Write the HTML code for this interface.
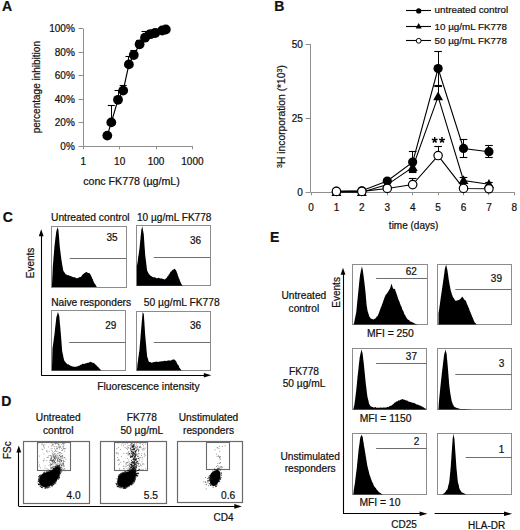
<!DOCTYPE html>
<html><head><meta charset="utf-8"><style>
html,body{margin:0;padding:0;background:#fff;}
svg{display:block;}
text{font-family:"Liberation Sans",sans-serif;fill:#111;stroke:#111;stroke-width:0.22px;}
</style></head><body>
<svg width="520" height="530" viewBox="0 0 520 530">
<rect width="520" height="530" fill="#fff"/>
<text x="2.00" y="10.90" font-size="14" text-anchor="start" font-weight="bold" >A</text>
<line x1="83.50" y1="28.50" x2="83.50" y2="146.30" stroke="#8f8f8f" stroke-width="1"/>
<line x1="78.50" y1="146.50" x2="83.00" y2="146.50" stroke="#8f8f8f" stroke-width="1"/>
<text x="74.80" y="149.90" font-size="10" text-anchor="end" >0%</text>
<line x1="78.50" y1="122.50" x2="83.00" y2="122.50" stroke="#8f8f8f" stroke-width="1"/>
<text x="74.80" y="126.34" font-size="10" text-anchor="end" >20%</text>
<line x1="78.50" y1="99.50" x2="83.00" y2="99.50" stroke="#8f8f8f" stroke-width="1"/>
<text x="74.80" y="102.78" font-size="10" text-anchor="end" >40%</text>
<line x1="78.50" y1="75.50" x2="83.00" y2="75.50" stroke="#8f8f8f" stroke-width="1"/>
<text x="74.80" y="79.22" font-size="10" text-anchor="end" >60%</text>
<line x1="78.50" y1="52.50" x2="83.00" y2="52.50" stroke="#8f8f8f" stroke-width="1"/>
<text x="74.80" y="55.66" font-size="10" text-anchor="end" >80%</text>
<line x1="78.50" y1="28.50" x2="83.00" y2="28.50" stroke="#8f8f8f" stroke-width="1"/>
<text x="74.80" y="32.10" font-size="10" text-anchor="end" >100%</text>
<line x1="83.00" y1="146.50" x2="192.80" y2="146.50" stroke="#8f8f8f" stroke-width="1"/>
<line x1="83.50" y1="146.30" x2="83.50" y2="149.30" stroke="#8f8f8f" stroke-width="1"/>
<text x="83.25" y="165.00" font-size="10" text-anchor="middle" >1</text>
<line x1="119.50" y1="146.30" x2="119.50" y2="149.30" stroke="#8f8f8f" stroke-width="1"/>
<text x="119.65" y="165.00" font-size="10" text-anchor="middle" >10</text>
<line x1="156.50" y1="146.30" x2="156.50" y2="149.30" stroke="#8f8f8f" stroke-width="1"/>
<text x="156.05" y="165.00" font-size="10" text-anchor="middle" >100</text>
<line x1="192.50" y1="146.30" x2="192.50" y2="149.30" stroke="#8f8f8f" stroke-width="1"/>
<text x="192.45" y="165.00" font-size="10" text-anchor="middle" >1000</text>
<text x="83.20" y="184.70" font-size="10.65" text-anchor="start" >conc FK778 (µg/mL)</text>
<text transform="translate(39.6,87.2) rotate(-90)" font-size="10" text-anchor="middle">percentage inhibition</text>
<line x1="111.50" y1="122.40" x2="111.50" y2="105.70" stroke="#000" stroke-width="1"/>
<line x1="107.80" y1="105.50" x2="114.80" y2="105.50" stroke="#000" stroke-width="1.1"/>
<line x1="118.50" y1="99.80" x2="118.50" y2="90.20" stroke="#000" stroke-width="1"/>
<line x1="114.50" y1="90.50" x2="121.50" y2="90.50" stroke="#000" stroke-width="1.1"/>
<line x1="123.50" y1="90.60" x2="123.50" y2="85.70" stroke="#000" stroke-width="1"/>
<line x1="119.70" y1="85.50" x2="126.70" y2="85.50" stroke="#000" stroke-width="1.1"/>
<line x1="128.50" y1="64.40" x2="128.50" y2="56.20" stroke="#000" stroke-width="1"/>
<line x1="125.40" y1="56.50" x2="132.40" y2="56.50" stroke="#000" stroke-width="1.1"/>
<line x1="133.50" y1="55.00" x2="133.50" y2="50.50" stroke="#000" stroke-width="1"/>
<line x1="130.30" y1="50.50" x2="137.30" y2="50.50" stroke="#000" stroke-width="1.1"/>
<line x1="139.50" y1="44.30" x2="139.50" y2="40.00" stroke="#000" stroke-width="1"/>
<line x1="136.10" y1="40.50" x2="143.10" y2="40.50" stroke="#000" stroke-width="1.1"/>
<line x1="145.50" y1="37.70" x2="145.50" y2="31.50" stroke="#000" stroke-width="1"/>
<line x1="141.50" y1="31.50" x2="148.50" y2="31.50" stroke="#000" stroke-width="1.1"/>
<line x1="150.50" y1="34.20" x2="150.50" y2="30.50" stroke="#000" stroke-width="1"/>
<line x1="146.90" y1="30.50" x2="153.90" y2="30.50" stroke="#000" stroke-width="1.1"/>
<line x1="155.50" y1="33.00" x2="155.50" y2="29.80" stroke="#000" stroke-width="1"/>
<line x1="151.70" y1="29.50" x2="158.70" y2="29.50" stroke="#000" stroke-width="1.1"/>
<polyline points="107.30,135.60 111.30,122.40 118.00,99.80 123.20,90.60 128.90,64.40 133.80,55.00 139.60,44.30 145.00,37.70 150.40,34.20 155.20,33.00 162.20,30.50 165.80,29.50" fill="none" stroke="#000" stroke-width="1.2"/>
<circle cx="107.30" cy="135.60" r="4.9" fill="#000"/>
<circle cx="111.30" cy="122.40" r="4.9" fill="#000"/>
<circle cx="118.00" cy="99.80" r="4.9" fill="#000"/>
<circle cx="123.20" cy="90.60" r="4.9" fill="#000"/>
<circle cx="128.90" cy="64.40" r="4.9" fill="#000"/>
<circle cx="133.80" cy="55.00" r="4.9" fill="#000"/>
<circle cx="139.60" cy="44.30" r="4.9" fill="#000"/>
<circle cx="145.00" cy="37.70" r="4.9" fill="#000"/>
<circle cx="150.40" cy="34.20" r="4.9" fill="#000"/>
<circle cx="155.20" cy="33.00" r="4.9" fill="#000"/>
<circle cx="162.20" cy="30.50" r="4.9" fill="#000"/>
<circle cx="165.80" cy="29.50" r="4.9" fill="#000"/>
<text x="274.30" y="11.20" font-size="14" text-anchor="start" font-weight="bold" >B</text>
<line x1="310.50" y1="44.20" x2="310.50" y2="192.30" stroke="#8f8f8f" stroke-width="1"/>
<line x1="305.60" y1="192.50" x2="310.60" y2="192.50" stroke="#8f8f8f" stroke-width="1"/>
<text x="302.80" y="195.90" font-size="10" text-anchor="end" >0</text>
<line x1="305.60" y1="118.50" x2="310.60" y2="118.50" stroke="#8f8f8f" stroke-width="1"/>
<text x="302.80" y="121.85" font-size="10" text-anchor="end" >25</text>
<line x1="305.60" y1="44.50" x2="310.60" y2="44.50" stroke="#8f8f8f" stroke-width="1"/>
<text x="302.80" y="47.80" font-size="10" text-anchor="end" >50</text>
<line x1="310.60" y1="192.50" x2="514.50" y2="192.50" stroke="#8f8f8f" stroke-width="1"/>
<line x1="311.50" y1="192.30" x2="311.50" y2="195.30" stroke="#8f8f8f" stroke-width="1"/>
<text x="311.00" y="210.60" font-size="10" text-anchor="middle" >0</text>
<line x1="336.50" y1="192.30" x2="336.50" y2="195.30" stroke="#8f8f8f" stroke-width="1"/>
<text x="336.42" y="210.60" font-size="10" text-anchor="middle" >1</text>
<line x1="361.50" y1="192.30" x2="361.50" y2="195.30" stroke="#8f8f8f" stroke-width="1"/>
<text x="361.84" y="210.60" font-size="10" text-anchor="middle" >2</text>
<line x1="387.50" y1="192.30" x2="387.50" y2="195.30" stroke="#8f8f8f" stroke-width="1"/>
<text x="387.26" y="210.60" font-size="10" text-anchor="middle" >3</text>
<line x1="412.50" y1="192.30" x2="412.50" y2="195.30" stroke="#8f8f8f" stroke-width="1"/>
<text x="412.68" y="210.60" font-size="10" text-anchor="middle" >4</text>
<line x1="438.50" y1="192.30" x2="438.50" y2="195.30" stroke="#8f8f8f" stroke-width="1"/>
<text x="438.10" y="210.60" font-size="10" text-anchor="middle" >5</text>
<line x1="463.50" y1="192.30" x2="463.50" y2="195.30" stroke="#8f8f8f" stroke-width="1"/>
<text x="463.52" y="210.60" font-size="10" text-anchor="middle" >6</text>
<line x1="488.50" y1="192.30" x2="488.50" y2="195.30" stroke="#8f8f8f" stroke-width="1"/>
<text x="488.94" y="210.60" font-size="10" text-anchor="middle" >7</text>
<line x1="514.50" y1="192.30" x2="514.50" y2="195.30" stroke="#8f8f8f" stroke-width="1"/>
<text x="514.36" y="210.60" font-size="10" text-anchor="middle" >8</text>
<text x="413.60" y="228.60" font-size="10" text-anchor="middle" >time (days)</text>
<text transform="translate(285.3,116.5) rotate(-90)" font-size="10.3" text-anchor="middle"><tspan font-size="7" dy="-3.5">3</tspan><tspan dy="3.5">H incorporation (*10</tspan><tspan font-size="7" dy="-3.5">3</tspan><tspan dy="3.5">)</tspan></text>
<line x1="412.50" y1="151.42" x2="412.50" y2="172.75" stroke="#000" stroke-width="1"/>
<line x1="408.88" y1="151.50" x2="416.48" y2="151.50" stroke="#000" stroke-width="1.1"/>
<line x1="408.88" y1="172.50" x2="416.48" y2="172.50" stroke="#000" stroke-width="1.1"/>
<line x1="438.50" y1="51.31" x2="438.50" y2="85.67" stroke="#000" stroke-width="1"/>
<line x1="434.30" y1="51.50" x2="441.90" y2="51.50" stroke="#000" stroke-width="1.1"/>
<line x1="434.30" y1="85.50" x2="441.90" y2="85.50" stroke="#000" stroke-width="1.1"/>
<line x1="463.50" y1="139.58" x2="463.50" y2="157.35" stroke="#000" stroke-width="1"/>
<line x1="459.72" y1="139.50" x2="467.32" y2="139.50" stroke="#000" stroke-width="1.1"/>
<line x1="459.72" y1="157.50" x2="467.32" y2="157.50" stroke="#000" stroke-width="1.1"/>
<line x1="488.50" y1="145.50" x2="488.50" y2="157.94" stroke="#000" stroke-width="1"/>
<line x1="485.14" y1="145.50" x2="492.74" y2="145.50" stroke="#000" stroke-width="1.1"/>
<line x1="485.14" y1="157.50" x2="492.74" y2="157.50" stroke="#000" stroke-width="1.1"/>
<line x1="412.50" y1="162.98" x2="412.50" y2="171.86" stroke="#000" stroke-width="1"/>
<line x1="408.88" y1="162.50" x2="416.48" y2="162.50" stroke="#000" stroke-width="1.1"/>
<line x1="408.88" y1="171.50" x2="416.48" y2="171.50" stroke="#000" stroke-width="1.1"/>
<line x1="463.50" y1="177.49" x2="463.50" y2="183.41" stroke="#000" stroke-width="1"/>
<line x1="459.72" y1="177.50" x2="467.32" y2="177.50" stroke="#000" stroke-width="1.1"/>
<line x1="459.72" y1="183.50" x2="467.32" y2="183.50" stroke="#000" stroke-width="1.1"/>
<line x1="488.50" y1="182.53" x2="488.50" y2="186.08" stroke="#000" stroke-width="1"/>
<line x1="485.14" y1="182.50" x2="492.74" y2="182.50" stroke="#000" stroke-width="1.1"/>
<line x1="485.14" y1="186.50" x2="492.74" y2="186.50" stroke="#000" stroke-width="1.1"/>
<line x1="412.50" y1="178.97" x2="412.50" y2="184.60" stroke="#000" stroke-width="1"/>
<line x1="408.88" y1="178.50" x2="416.48" y2="178.50" stroke="#000" stroke-width="1.1"/>
<line x1="438.50" y1="146.39" x2="438.50" y2="155.57" stroke="#000" stroke-width="1"/>
<line x1="434.30" y1="146.50" x2="441.90" y2="146.50" stroke="#000" stroke-width="1.1"/>
<polyline points="336.42,191.41 361.84,191.41 387.26,188.45 412.68,184.60 438.10,155.57 463.52,188.45 488.94,188.75" fill="none" stroke="#000" stroke-width="1.1"/>
<polyline points="336.42,192.30 361.84,192.30 387.26,184.60 412.68,167.42 438.10,96.63 463.52,180.45 488.94,184.30" fill="none" stroke="#000" stroke-width="1.1"/>
<polyline points="336.42,191.41 361.84,190.82 387.26,181.04 412.68,162.09 438.10,68.49 463.52,148.46 488.94,151.72" fill="none" stroke="#000" stroke-width="1.1"/>
<line x1="438.50" y1="96.63" x2="438.50" y2="86.85" stroke="#000" stroke-width="1"/>
<line x1="434.30" y1="86.50" x2="441.90" y2="86.50" stroke="#000" stroke-width="1.1"/>
<polygon points="336.42,187.10 331.48,195.94 341.36,195.94" fill="#000"/>
<polygon points="361.84,187.10 356.90,195.94 366.78,195.94" fill="#000"/>
<polygon points="387.26,179.40 382.32,188.24 392.20,188.24" fill="#000"/>
<polygon points="412.68,162.22 407.74,171.06 417.62,171.06" fill="#000"/>
<polygon points="438.10,91.43 433.16,100.27 443.04,100.27" fill="#000"/>
<polygon points="463.52,175.25 458.58,184.09 468.46,184.09" fill="#000"/>
<polygon points="488.94,179.10 484.00,187.94 493.88,187.94" fill="#000"/>
<circle cx="336.42" cy="191.41" r="4.6" fill="#000"/>
<circle cx="361.84" cy="190.82" r="4.6" fill="#000"/>
<circle cx="387.26" cy="181.04" r="4.6" fill="#000"/>
<circle cx="412.68" cy="162.09" r="4.6" fill="#000"/>
<circle cx="438.10" cy="68.49" r="4.6" fill="#000"/>
<circle cx="463.52" cy="148.46" r="4.6" fill="#000"/>
<circle cx="488.94" cy="151.72" r="4.6" fill="#000"/>
<circle cx="336.42" cy="191.41" r="4.2" fill="#fff" stroke="#000" stroke-width="1.2"/>
<circle cx="361.84" cy="191.41" r="4.2" fill="#fff" stroke="#000" stroke-width="1.2"/>
<circle cx="387.26" cy="188.45" r="4.2" fill="#fff" stroke="#000" stroke-width="1.2"/>
<circle cx="412.68" cy="184.60" r="4.2" fill="#fff" stroke="#000" stroke-width="1.2"/>
<circle cx="438.10" cy="155.57" r="4.2" fill="#fff" stroke="#000" stroke-width="1.2"/>
<circle cx="463.52" cy="188.45" r="4.2" fill="#fff" stroke="#000" stroke-width="1.2"/>
<circle cx="488.94" cy="188.75" r="4.2" fill="#fff" stroke="#000" stroke-width="1.2"/>
<line x1="434.70" y1="140.10" x2="434.70" y2="137.10" stroke="#000" stroke-width="1.5"/>
<line x1="434.70" y1="140.10" x2="437.55" y2="139.17" stroke="#000" stroke-width="1.5"/>
<line x1="434.70" y1="140.10" x2="436.46" y2="142.53" stroke="#000" stroke-width="1.5"/>
<line x1="434.70" y1="140.10" x2="432.94" y2="142.53" stroke="#000" stroke-width="1.5"/>
<line x1="434.70" y1="140.10" x2="431.85" y2="139.17" stroke="#000" stroke-width="1.5"/>
<line x1="442.00" y1="140.10" x2="442.00" y2="137.10" stroke="#000" stroke-width="1.5"/>
<line x1="442.00" y1="140.10" x2="444.85" y2="139.17" stroke="#000" stroke-width="1.5"/>
<line x1="442.00" y1="140.10" x2="443.76" y2="142.53" stroke="#000" stroke-width="1.5"/>
<line x1="442.00" y1="140.10" x2="440.24" y2="142.53" stroke="#000" stroke-width="1.5"/>
<line x1="442.00" y1="140.10" x2="439.15" y2="139.17" stroke="#000" stroke-width="1.5"/>
<line x1="406.00" y1="10.50" x2="431.00" y2="10.50" stroke="#000" stroke-width="1.1"/>
<circle cx="418.7" cy="10.9" r="2.6" fill="#000"/>
<text x="434.60" y="13.40" font-size="9.8" text-anchor="start" >untreated control</text>
<line x1="406.00" y1="26.50" x2="431.00" y2="26.50" stroke="#000" stroke-width="1.1"/>
<polygon points="418.70,23.10 415.66,28.54 421.74,28.54" fill="#000"/>
<text x="434.60" y="29.60" font-size="9.8" text-anchor="start" >10 µg/mL FK778</text>
<line x1="406.00" y1="40.50" x2="431.00" y2="40.50" stroke="#000" stroke-width="1.1"/>
<circle cx="418.7" cy="40.8" r="2.4" fill="#fff" stroke="#000" stroke-width="1"/>
<text x="434.60" y="44.10" font-size="9.8" text-anchor="start" >50 µg/mL FK778</text>
<text x="2.70" y="222.30" font-size="14" text-anchor="start" font-weight="bold" >C</text>
<line x1="41.50" y1="375.20" x2="41.50" y2="235.20" stroke="#000" stroke-width="1.1"/>
<polygon points="41.20,229.20 38.80,236.20 43.60,236.20" fill="#000"/>
<line x1="41.20" y1="375.50" x2="205.30" y2="375.50" stroke="#000" stroke-width="1.1"/>
<polygon points="211.30,375.20 203.80,372.90 203.80,377.50" fill="#000"/>
<text transform="translate(33.6,263) rotate(-90)" font-size="10" text-anchor="middle">Events</text>
<text x="97.20" y="390.30" font-size="10.3" text-anchor="start" >Fluorescence intensity</text>
<rect x="51.50" y="226.50" width="75.00" height="61.00" fill="none" stroke="#8c8c8c" stroke-width="1"/>
<polygon points="51.90,287.00 51.94,286.19 51.97,285.22 52.01,284.25 52.04,283.89 52.08,282.56 52.12,282.16 52.15,281.20 52.19,280.11 52.22,279.70 52.26,278.46 52.30,278.01 52.33,276.87 52.37,276.08 52.40,275.56 52.44,275.11 52.48,273.67 52.51,272.95 52.55,272.50 52.58,271.97 52.62,270.83 52.66,269.86 52.69,269.56 52.73,267.92 52.76,267.83 52.80,266.70 52.87,265.68 52.94,264.72 53.00,263.87 53.07,263.22 53.14,262.84 53.21,261.44 53.28,260.98 53.34,260.20 53.41,259.13 53.48,258.46 53.55,257.20 53.62,256.37 53.68,255.67 53.75,255.27 53.82,254.21 53.89,253.28 53.96,252.70 54.02,251.75 54.09,250.79 54.16,250.40 54.23,249.49 54.30,248.25 54.36,247.72 54.43,246.85 54.50,246.00 54.60,245.51 54.70,244.56 54.80,243.34 54.90,243.14 55.00,241.54 55.10,240.99 55.20,240.47 55.30,239.10 55.40,238.58 55.50,237.35 55.60,237.09 55.70,236.36 55.80,235.36 55.90,234.81 56.00,233.48 56.10,233.00 56.20,232.00 56.42,231.23 56.63,230.37 56.85,229.41 57.07,228.91 57.28,228.15 57.50,226.90 57.75,227.75 58.00,228.80 58.25,229.13 58.50,230.40 58.56,231.40 58.63,232.17 58.69,233.31 58.75,233.97 58.82,234.31 58.88,235.22 58.94,236.30 59.01,236.54 59.07,237.75 59.13,238.31 59.19,239.09 59.26,239.86 59.32,241.32 59.38,241.56 59.45,242.49 59.51,243.44 59.57,244.69 59.64,244.80 59.70,246.00 59.80,246.77 59.90,247.67 60.00,248.78 60.10,249.53 60.20,250.39 60.30,250.67 60.40,251.61 60.50,252.37 60.60,253.65 60.70,254.53 60.80,254.62 60.90,255.45 61.00,256.31 61.10,257.12 61.20,258.16 61.30,259.07 61.40,259.80 61.54,260.39 61.68,260.95 61.82,262.13 61.95,262.88 62.09,263.86 62.23,265.01 62.37,265.57 62.51,266.21 62.65,267.11 62.78,267.96 62.92,268.20 63.06,269.76 63.20,270.20 63.63,271.17 64.07,271.97 64.50,272.62 64.93,272.97 65.37,273.69 65.80,274.50 66.65,274.44 67.50,275.22 68.35,275.01 69.20,275.70 70.08,275.66 70.95,276.14 71.83,276.45 72.70,277.10 73.56,277.24 74.42,277.26 75.28,277.49 76.14,277.91 77.00,278.50 77.88,277.79 78.75,277.68 79.62,277.02 80.50,277.10 81.07,276.85 81.63,276.04 82.20,275.03 82.77,274.54 83.33,274.05 83.90,273.60 84.77,272.91 85.63,272.13 86.50,271.90 87.28,272.56 88.05,273.04 88.82,272.92 89.60,273.30 90.02,274.05 90.44,274.45 90.86,275.22 91.28,276.20 91.70,277.10 92.03,277.64 92.35,278.90 92.67,279.05 93.00,279.67 93.33,281.26 93.65,281.63 93.97,282.03 94.30,283.10 94.82,283.92 95.34,284.23 95.86,285.47 96.38,286.22 96.90,287.00" fill="#000"/>
<line x1="69.70" y1="258.50" x2="126.10" y2="258.50" stroke="#6e6e6e" stroke-width="1"/>
<text x="51.00" y="220.60" font-size="10.25" text-anchor="start" >Untreated control</text>
<text x="112.00" y="240.60" font-size="10" text-anchor="middle" >35</text>
<rect x="136.50" y="225.50" width="74.00" height="60.00" fill="none" stroke="#8c8c8c" stroke-width="1"/>
<polygon points="136.90,285.80 136.90,285.00 136.90,284.62 136.90,283.71 136.90,282.76 136.90,281.56 136.90,280.86 136.90,279.87 136.90,279.61 136.90,278.59 136.90,278.01 136.90,276.80 136.90,275.90 136.90,275.63 136.90,274.98 136.90,274.05 136.90,273.21 136.90,272.42 136.90,271.54 136.90,270.27 136.90,269.73 136.90,268.78 136.90,267.68 136.90,266.88 136.90,266.50 137.02,265.48 137.14,264.64 137.26,264.20 137.38,263.62 137.50,262.33 137.61,261.95 137.73,261.17 137.85,260.32 137.97,258.96 138.09,258.01 138.21,257.19 138.33,256.34 138.45,255.52 138.57,255.08 138.69,254.50 138.80,253.63 138.92,252.48 139.04,251.81 139.16,251.12 139.28,249.65 139.40,249.20 139.48,248.54 139.56,247.97 139.64,247.05 139.72,246.23 139.80,245.18 139.88,244.11 139.95,243.86 140.03,242.65 140.11,242.27 140.19,241.62 140.27,240.31 140.35,239.51 140.43,239.20 140.51,238.20 140.59,236.90 140.67,236.06 140.75,235.29 140.83,235.16 140.90,234.28 140.98,232.88 141.06,232.69 141.14,232.03 141.22,230.94 141.30,230.00 141.55,228.99 141.80,228.29 142.05,227.04 142.30,226.50 142.46,226.87 142.61,228.55 142.77,229.07 142.92,229.77 143.08,230.95 143.23,231.31 143.39,232.51 143.54,233.28 143.70,233.80 143.76,234.36 143.82,235.21 143.87,236.06 143.93,236.83 143.99,237.95 144.05,238.48 144.10,239.43 144.16,239.99 144.22,241.51 144.28,241.82 144.33,242.73 144.39,243.66 144.45,244.76 144.51,245.14 144.57,246.41 144.62,246.85 144.68,247.69 144.74,248.50 144.80,248.86 144.85,250.05 144.91,250.64 144.97,251.29 145.03,252.82 145.08,253.07 145.14,254.16 145.20,255.00 145.30,256.01 145.40,256.67 145.50,257.27 145.60,258.26 145.70,259.10 145.80,260.12 145.90,260.32 146.00,261.54 146.10,262.07 146.20,262.90 146.30,264.16 146.40,264.73 146.50,265.59 146.60,266.58 146.70,267.53 146.80,267.92 146.90,268.88 147.00,269.59 147.10,270.40 147.48,271.17 147.86,272.09 148.24,272.64 148.62,273.47 149.00,274.20 149.72,274.76 150.45,275.75 151.18,276.10 151.90,276.50 152.68,277.08 153.46,277.38 154.24,277.00 155.02,277.51 155.80,277.70 156.60,278.23 157.40,278.27 158.20,277.77 159.00,277.89 159.80,278.31 160.60,278.50 161.55,278.39 162.50,278.82 163.45,278.94 164.40,279.60 165.12,279.13 165.85,278.61 166.58,278.08 167.30,277.10 167.71,276.10 168.13,275.92 168.54,275.19 168.96,274.04 169.37,274.02 169.79,273.41 170.20,272.30 170.78,271.47 171.36,271.55 171.94,270.47 172.52,269.97 173.10,269.40 173.85,269.39 174.60,268.50 175.07,269.50 175.55,269.60 176.03,270.54 176.50,271.30 176.79,272.16 177.07,272.86 177.36,273.58 177.65,274.54 177.94,275.75 178.23,275.97 178.51,277.30 178.80,278.10 179.14,278.86 179.49,279.29 179.83,280.39 180.17,281.47 180.51,282.18 180.86,282.59 181.20,283.80 181.70,284.47 182.20,285.13 182.70,285.80" fill="#000"/>
<line x1="153.80" y1="257.50" x2="210.20" y2="257.50" stroke="#6e6e6e" stroke-width="1"/>
<text x="137.00" y="221.00" font-size="10.1" text-anchor="start" >10 µg/mL FK778</text>
<text x="195.50" y="243.80" font-size="10" text-anchor="middle" >36</text>
<rect x="51.50" y="310.50" width="74.00" height="60.00" fill="none" stroke="#8c8c8c" stroke-width="1"/>
<polygon points="51.90,370.60 51.92,369.78 51.94,369.40 51.97,368.40 51.99,367.75 52.01,366.15 52.03,365.48 52.06,364.46 52.08,364.30 52.10,363.03 52.12,362.08 52.14,361.53 52.17,361.15 52.19,360.25 52.21,358.92 52.23,358.01 52.26,357.88 52.28,356.75 52.30,356.05 52.32,354.68 52.34,353.83 52.37,353.58 52.39,352.53 52.41,351.39 52.43,351.35 52.46,350.26 52.48,349.59 52.50,348.50 52.61,347.33 52.72,347.23 52.84,345.73 52.95,345.65 53.06,344.49 53.17,343.59 53.28,342.99 53.39,342.53 53.51,341.14 53.62,340.23 53.73,339.79 53.84,338.74 53.95,337.82 54.06,337.08 54.18,336.18 54.29,335.53 54.40,335.00 54.49,334.01 54.58,333.18 54.67,332.76 54.76,331.52 54.85,330.88 54.94,329.77 55.03,329.10 55.12,327.98 55.21,327.36 55.30,326.33 55.40,326.15 55.49,325.16 55.58,324.01 55.67,323.44 55.76,323.03 55.85,321.46 55.94,321.28 56.03,320.11 56.12,319.34 56.21,318.82 56.30,317.70 56.53,316.78 56.76,316.05 56.99,315.38 57.21,314.82 57.44,313.42 57.67,313.03 57.90,311.90 58.16,312.87 58.42,313.58 58.68,314.15 58.94,314.88 59.20,315.80 59.28,316.22 59.35,317.11 59.43,317.89 59.50,319.31 59.58,319.70 59.66,320.44 59.73,321.19 59.81,322.70 59.89,323.55 59.96,324.19 60.04,324.67 60.11,325.45 60.19,326.32 60.27,327.30 60.34,327.85 60.42,328.93 60.50,329.59 60.57,331.04 60.65,331.88 60.72,332.32 60.80,333.10 60.86,333.69 60.92,335.17 60.99,335.40 61.05,336.27 61.11,336.77 61.17,337.94 61.23,338.84 61.30,339.69 61.36,340.25 61.42,341.34 61.48,341.72 61.54,342.77 61.60,343.44 61.67,344.54 61.73,345.04 61.79,345.85 61.85,346.93 61.91,347.69 61.98,348.83 62.04,349.60 62.10,350.40 62.26,351.43 62.42,352.14 62.58,352.99 62.73,353.94 62.89,354.30 63.05,355.04 63.21,356.44 63.37,356.48 63.52,357.80 63.68,358.53 63.84,358.79 64.00,360.00 64.58,361.06 65.16,361.87 65.74,362.39 66.32,363.25 66.90,363.80 67.68,364.48 68.46,364.28 69.24,365.02 70.02,365.40 70.80,365.80 71.75,366.33 72.70,366.52 73.65,366.77 74.60,366.70 75.40,366.63 76.20,366.75 77.00,366.41 77.80,366.27 78.60,365.71 79.40,365.80 80.18,364.98 80.96,364.67 81.74,364.47 82.52,363.84 83.30,363.80 84.25,363.88 85.20,363.40 86.15,363.24 87.10,362.90 87.88,362.81 88.66,362.66 89.44,362.29 90.22,361.65 91.00,361.90 91.93,362.50 92.87,362.79 93.80,362.90 94.38,363.48 94.96,364.09 95.54,364.78 96.12,364.83 96.70,365.80 97.28,366.59 97.86,366.74 98.44,367.16 99.02,367.91 99.60,368.70 100.23,369.33 100.87,369.97 101.50,370.60" fill="#000"/>
<line x1="69.20" y1="342.50" x2="125.80" y2="342.50" stroke="#6e6e6e" stroke-width="1"/>
<text x="51.20" y="305.60" font-size="10.2" text-anchor="start" >Naive responders</text>
<text x="110.80" y="328.60" font-size="10" text-anchor="middle" >29</text>
<rect x="136.50" y="311.50" width="74.00" height="59.00" fill="none" stroke="#8c8c8c" stroke-width="1"/>
<polygon points="136.90,370.60 136.97,369.75 137.05,369.11 137.12,367.78 137.20,367.42 137.28,366.78 137.35,365.49 137.43,364.54 137.50,363.80 137.62,362.94 137.74,362.29 137.86,361.53 137.97,360.56 138.09,359.74 138.21,358.39 138.33,357.62 138.45,356.88 138.57,356.48 138.69,355.25 138.81,354.65 138.93,353.31 139.04,352.52 139.16,351.87 139.28,351.39 139.40,350.40 139.47,349.75 139.54,348.91 139.60,347.74 139.67,347.11 139.74,346.24 139.81,345.42 139.88,344.28 139.94,344.15 140.01,342.70 140.08,342.58 140.15,341.72 140.21,340.07 140.28,339.64 140.35,339.14 140.42,338.45 140.49,337.15 140.55,336.17 140.62,335.29 140.69,335.13 140.76,333.64 140.83,333.15 140.89,331.93 140.96,331.45 141.03,331.01 141.10,329.44 141.16,329.24 141.23,328.13 141.30,327.30 141.37,326.84 141.45,325.86 141.52,324.63 141.59,324.42 141.67,323.23 141.74,322.01 141.82,321.18 141.89,320.81 141.96,319.96 142.04,319.02 142.11,318.06 142.18,317.43 142.26,316.60 142.33,316.26 142.41,314.69 142.48,314.56 142.55,313.83 142.63,312.37 142.70,311.90 143.25,313.23 143.80,313.80 143.85,314.81 143.91,315.79 143.96,316.06 144.02,316.95 144.07,317.78 144.12,319.14 144.18,319.59 144.23,320.20 144.28,321.07 144.34,321.75 144.39,322.36 144.45,323.23 144.50,324.70 144.55,325.02 144.61,326.42 144.66,326.62 144.72,327.45 144.77,328.49 144.82,329.01 144.88,329.99 144.93,331.33 144.98,332.08 145.04,332.83 145.09,333.49 145.15,334.56 145.20,335.00 145.27,336.21 145.35,336.68 145.42,337.64 145.49,337.86 145.57,339.29 145.64,339.85 145.71,340.94 145.78,341.65 145.86,342.15 145.93,342.75 146.00,344.35 146.08,344.45 146.15,345.57 146.22,346.27 146.30,347.05 146.37,348.26 146.44,349.29 146.52,349.46 146.59,350.63 146.66,351.13 146.73,352.17 146.81,352.84 146.88,353.45 146.95,354.26 147.03,355.12 147.10,356.20 147.37,357.38 147.64,357.83 147.91,358.39 148.19,359.82 148.46,360.72 148.73,361.04 149.00,361.90 149.97,361.91 150.93,362.29 151.90,362.90 152.68,362.33 153.46,362.36 154.24,361.93 155.02,361.87 155.80,361.90 156.60,361.62 157.40,361.83 158.20,362.05 159.00,361.86 159.80,361.49 160.60,361.50 161.40,361.34 162.20,361.36 163.00,361.14 163.80,361.02 164.60,360.69 165.40,361.00 166.20,360.70 167.00,361.22 167.80,360.36 168.60,360.60 169.40,360.62 170.20,360.40 171.15,360.53 172.10,359.74 173.05,359.59 174.00,359.60 174.67,359.84 175.33,360.44 176.00,361.00 176.38,361.71 176.76,362.93 177.14,363.59 177.52,364.38 177.90,364.80 178.31,365.06 178.73,365.75 179.14,367.05 179.56,367.90 179.97,368.20 180.39,368.99 180.80,369.60 181.70,370.60" fill="#000"/>
<line x1="153.80" y1="342.50" x2="210.20" y2="342.50" stroke="#6e6e6e" stroke-width="1"/>
<text x="143.80" y="305.60" font-size="10.3" text-anchor="start" >50 µg/mL FK778</text>
<text x="195.50" y="328.60" font-size="10" text-anchor="middle" >36</text>
<text x="1.30" y="405.60" font-size="14" text-anchor="start" font-weight="bold" >D</text>
<line x1="18.50" y1="506.40" x2="18.50" y2="451.40" stroke="#000" stroke-width="1.1"/>
<polygon points="18.80,445.40 16.40,452.40 21.20,452.40" fill="#000"/>
<line x1="18.80" y1="506.50" x2="235.80" y2="506.50" stroke="#000" stroke-width="1.1"/>
<polygon points="241.80,506.40 234.30,504.10 234.30,508.70" fill="#000"/>
<text transform="translate(10.7,450.2) rotate(-90)" font-size="10" text-anchor="middle">FSc</text>
<text x="223.50" y="521.40" font-size="10" text-anchor="middle" >CD4</text>
<rect x="23.50" y="441.50" width="66.00" height="62.00" fill="none" stroke="#6a6a6a" stroke-width="1.2"/>
<rect x="37.50" y="442.50" width="33.00" height="28.00" fill="none" stroke="#6a6a6a" stroke-width="1.1"/>
<text x="58.20" y="421.30" font-size="10.2" text-anchor="middle" >Untreated</text>
<text x="58.20" y="433.60" font-size="10.2" text-anchor="middle" >control</text>
<text x="73.60" y="499.00" font-size="10.2" text-anchor="middle" >4.0</text>
<rect x="100.50" y="441.50" width="66.00" height="62.00" fill="none" stroke="#6a6a6a" stroke-width="1.2"/>
<rect x="114.50" y="442.50" width="33.00" height="28.00" fill="none" stroke="#6a6a6a" stroke-width="1.1"/>
<text x="141.80" y="421.30" font-size="10.2" text-anchor="middle" >FK778</text>
<text x="141.80" y="433.60" font-size="10.2" text-anchor="middle" >50 µg/mL</text>
<text x="150.90" y="499.00" font-size="10.2" text-anchor="middle" >5.5</text>
<rect x="177.50" y="441.50" width="65.00" height="61.00" fill="none" stroke="#6a6a6a" stroke-width="1.2"/>
<rect x="206.50" y="442.50" width="23.00" height="27.00" fill="none" stroke="#6a6a6a" stroke-width="1.1"/>
<text x="208.50" y="421.30" font-size="10.2" text-anchor="middle" >Unstimulated</text>
<text x="208.50" y="433.60" font-size="10.2" text-anchor="middle" >responders</text>
<text x="228.20" y="499.00" font-size="10.2" text-anchor="middle" >0.6</text>
<g fill="#777"><rect x="57.8" y="460.7" width="0.8" height="0.8"/><rect x="50.4" y="458.0" width="0.8" height="0.8"/><rect x="55.7" y="451.1" width="0.8" height="0.8"/><rect x="53.9" y="453.5" width="0.8" height="0.8"/><rect x="54.4" y="442.9" width="0.8" height="0.8"/><rect x="62.3" y="455.9" width="0.8" height="0.8"/><rect x="56.5" y="454.4" width="0.8" height="0.8"/><rect x="56.3" y="468.5" width="0.8" height="0.8"/><rect x="56.7" y="448.1" width="0.8" height="0.8"/><rect x="58.3" y="456.7" width="0.8" height="0.8"/><rect x="56.2" y="469.2" width="0.8" height="0.8"/><rect x="41.6" y="444.1" width="0.8" height="0.8"/><rect x="58.1" y="470.5" width="0.8" height="0.8"/><rect x="58.5" y="443.5" width="0.8" height="0.8"/><rect x="47.4" y="469.4" width="0.8" height="0.8"/><rect x="64.6" y="448.4" width="0.8" height="0.8"/><rect x="60.6" y="465.6" width="0.8" height="0.8"/><rect x="63.3" y="448.0" width="0.8" height="0.8"/><rect x="62.7" y="443.4" width="0.8" height="0.8"/><rect x="60.3" y="464.1" width="0.8" height="0.8"/><rect x="54.9" y="449.9" width="0.8" height="0.8"/><rect x="46.5" y="450.3" width="0.8" height="0.8"/><rect x="58.8" y="468.3" width="0.8" height="0.8"/><rect x="64.0" y="443.3" width="0.8" height="0.8"/><rect x="51.4" y="468.6" width="0.8" height="0.8"/><rect x="59.2" y="459.6" width="0.8" height="0.8"/><rect x="44.5" y="444.4" width="0.8" height="0.8"/><rect x="62.3" y="470.3" width="0.8" height="0.8"/><rect x="57.5" y="455.1" width="0.8" height="0.8"/><rect x="58.5" y="466.3" width="0.8" height="0.8"/><rect x="55.9" y="470.3" width="0.8" height="0.8"/><rect x="63.2" y="443.7" width="0.8" height="0.8"/><rect x="53.9" y="468.6" width="0.8" height="0.8"/><rect x="61.9" y="455.2" width="0.8" height="0.8"/><rect x="59.4" y="469.1" width="0.8" height="0.8"/><rect x="54.3" y="460.0" width="0.8" height="0.8"/><rect x="47.9" y="446.6" width="0.8" height="0.8"/><rect x="56.6" y="447.8" width="0.8" height="0.8"/><rect x="53.0" y="460.5" width="0.8" height="0.8"/><rect x="62.3" y="455.5" width="0.8" height="0.8"/><rect x="48.0" y="456.7" width="0.8" height="0.8"/><rect x="64.7" y="448.1" width="0.8" height="0.8"/><rect x="64.0" y="469.9" width="0.8" height="0.8"/><rect x="52.1" y="453.3" width="0.8" height="0.8"/><rect x="38.7" y="466.1" width="0.8" height="0.8"/><rect x="54.4" y="458.0" width="0.8" height="0.8"/><rect x="59.4" y="455.4" width="0.8" height="0.8"/><rect x="50.9" y="445.6" width="0.8" height="0.8"/><rect x="51.9" y="444.1" width="0.8" height="0.8"/><rect x="48.2" y="469.2" width="0.8" height="0.8"/><rect x="60.4" y="446.6" width="0.8" height="0.8"/><rect x="63.4" y="448.4" width="0.8" height="0.8"/><rect x="51.8" y="451.5" width="0.8" height="0.8"/><rect x="56.6" y="467.7" width="0.8" height="0.8"/><rect x="59.6" y="445.8" width="0.8" height="0.8"/><rect x="48.6" y="464.9" width="0.8" height="0.8"/><rect x="65.3" y="458.8" width="0.8" height="0.8"/><rect x="59.0" y="455.0" width="0.8" height="0.8"/><rect x="58.4" y="444.0" width="0.8" height="0.8"/><rect x="54.0" y="461.2" width="0.8" height="0.8"/><rect x="37.7" y="443.5" width="0.8" height="0.8"/><rect x="54.8" y="454.7" width="0.8" height="0.8"/><rect x="62.7" y="446.3" width="0.8" height="0.8"/><rect x="55.9" y="443.2" width="0.8" height="0.8"/><rect x="62.0" y="464.5" width="0.8" height="0.8"/><rect x="53.3" y="452.4" width="0.8" height="0.8"/><rect x="44.6" y="467.9" width="0.8" height="0.8"/><rect x="52.5" y="454.0" width="0.8" height="0.8"/><rect x="39.2" y="464.4" width="0.8" height="0.8"/><rect x="53.0" y="468.9" width="0.8" height="0.8"/><rect x="55.6" y="465.4" width="0.8" height="0.8"/><rect x="46.3" y="451.0" width="0.8" height="0.8"/><rect x="50.6" y="463.4" width="0.8" height="0.8"/><rect x="57.1" y="466.3" width="0.8" height="0.8"/><rect x="59.7" y="457.3" width="0.8" height="0.8"/><rect x="55.6" y="469.6" width="0.8" height="0.8"/><rect x="62.2" y="443.0" width="0.8" height="0.8"/><rect x="58.5" y="451.8" width="0.8" height="0.8"/><rect x="55.3" y="462.0" width="0.8" height="0.8"/><rect x="57.1" y="466.6" width="0.8" height="0.8"/><rect x="57.9" y="458.6" width="0.8" height="0.8"/><rect x="43.5" y="460.0" width="0.8" height="0.8"/><rect x="63.1" y="446.6" width="0.8" height="0.8"/><rect x="41.6" y="443.4" width="0.8" height="0.8"/><rect x="57.0" y="460.3" width="0.8" height="0.8"/><rect x="58.2" y="444.4" width="0.8" height="0.8"/><rect x="63.2" y="469.0" width="0.8" height="0.8"/><rect x="43.4" y="445.7" width="0.8" height="0.8"/><rect x="61.3" y="465.3" width="0.8" height="0.8"/><rect x="60.7" y="460.3" width="0.8" height="0.8"/><rect x="57.6" y="452.9" width="0.8" height="0.8"/><rect x="54.9" y="443.5" width="0.8" height="0.8"/><rect x="49.8" y="464.2" width="0.8" height="0.8"/><rect x="57.3" y="457.7" width="0.8" height="0.8"/><rect x="58.9" y="470.0" width="0.8" height="0.8"/><rect x="59.6" y="460.2" width="0.8" height="0.8"/><rect x="40.0" y="467.5" width="0.8" height="0.8"/><rect x="58.7" y="463.7" width="0.8" height="0.8"/><rect x="47.4" y="451.7" width="0.8" height="0.8"/><rect x="53.8" y="446.1" width="0.8" height="0.8"/><rect x="62.4" y="449.3" width="0.8" height="0.8"/><rect x="46.7" y="457.2" width="0.8" height="0.8"/><rect x="58.0" y="445.5" width="0.8" height="0.8"/><rect x="59.9" y="463.1" width="0.8" height="0.8"/><rect x="43.1" y="460.5" width="0.8" height="0.8"/><rect x="43.4" y="453.5" width="0.8" height="0.8"/><rect x="51.6" y="460.3" width="0.8" height="0.8"/><rect x="58.3" y="468.0" width="0.8" height="0.8"/><rect x="53.7" y="463.6" width="0.8" height="0.8"/><rect x="59.3" y="462.2" width="0.8" height="0.8"/><rect x="56.6" y="460.6" width="0.8" height="0.8"/><rect x="46.4" y="460.2" width="0.8" height="0.8"/><rect x="55.2" y="449.6" width="0.8" height="0.8"/><rect x="50.3" y="460.0" width="0.8" height="0.8"/><rect x="56.5" y="468.6" width="0.8" height="0.8"/><rect x="55.9" y="464.4" width="0.8" height="0.8"/><rect x="51.3" y="469.9" width="0.8" height="0.8"/><rect x="63.9" y="457.1" width="0.8" height="0.8"/><rect x="49.4" y="462.2" width="0.8" height="0.8"/><rect x="63.9" y="457.4" width="0.8" height="0.8"/><rect x="60.0" y="453.6" width="0.8" height="0.8"/><rect x="55.4" y="455.7" width="0.8" height="0.8"/><rect x="55.5" y="465.5" width="0.8" height="0.8"/><rect x="61.4" y="450.1" width="0.8" height="0.8"/><rect x="59.6" y="446.5" width="0.8" height="0.8"/><rect x="55.3" y="443.0" width="0.8" height="0.8"/><rect x="64.2" y="461.0" width="0.8" height="0.8"/><rect x="59.3" y="452.3" width="0.8" height="0.8"/><rect x="62.9" y="464.8" width="0.8" height="0.8"/><rect x="56.3" y="467.6" width="0.8" height="0.8"/><rect x="61.1" y="448.1" width="0.8" height="0.8"/><rect x="52.5" y="463.4" width="0.8" height="0.8"/><rect x="62.3" y="458.1" width="0.8" height="0.8"/><rect x="39.2" y="455.7" width="0.8" height="0.8"/><rect x="61.1" y="453.1" width="0.8" height="0.8"/><rect x="55.4" y="443.4" width="0.8" height="0.8"/><rect x="56.7" y="468.7" width="0.8" height="0.8"/><rect x="59.2" y="448.5" width="0.8" height="0.8"/><rect x="51.7" y="450.2" width="0.8" height="0.8"/><rect x="52.9" y="444.0" width="0.8" height="0.8"/><rect x="55.2" y="462.1" width="0.8" height="0.8"/><rect x="56.7" y="448.6" width="0.8" height="0.8"/><rect x="50.4" y="464.0" width="0.8" height="0.8"/><rect x="63.2" y="461.0" width="0.8" height="0.8"/><rect x="60.6" y="464.6" width="0.8" height="0.8"/><rect x="53.7" y="468.3" width="0.8" height="0.8"/><rect x="63.9" y="470.1" width="0.8" height="0.8"/><rect x="43.5" y="446.8" width="0.8" height="0.8"/><rect x="37.7" y="461.7" width="0.8" height="0.8"/><rect x="61.6" y="463.0" width="0.8" height="0.8"/><rect x="55.2" y="462.5" width="0.8" height="0.8"/><rect x="57.7" y="442.9" width="0.8" height="0.8"/><rect x="55.8" y="465.5" width="0.8" height="0.8"/><rect x="61.7" y="456.2" width="0.8" height="0.8"/><rect x="56.6" y="446.7" width="0.8" height="0.8"/><rect x="57.3" y="465.8" width="0.8" height="0.8"/><rect x="54.4" y="451.2" width="0.8" height="0.8"/><rect x="60.3" y="466.9" width="0.8" height="0.8"/><rect x="56.8" y="468.2" width="0.8" height="0.8"/><rect x="50.6" y="448.4" width="0.8" height="0.8"/><rect x="58.6" y="464.8" width="0.8" height="0.8"/><rect x="62.4" y="457.2" width="0.8" height="0.8"/><rect x="54.1" y="447.9" width="0.8" height="0.8"/><rect x="53.4" y="453.9" width="0.8" height="0.8"/><rect x="59.6" y="447.0" width="0.8" height="0.8"/><rect x="47.3" y="457.1" width="0.8" height="0.8"/><rect x="51.2" y="458.5" width="0.8" height="0.8"/><rect x="42.7" y="444.9" width="0.8" height="0.8"/><rect x="53.2" y="467.0" width="0.8" height="0.8"/><rect x="64.1" y="468.1" width="0.8" height="0.8"/><rect x="54.3" y="453.7" width="0.8" height="0.8"/><rect x="55.5" y="469.4" width="0.8" height="0.8"/><rect x="48.6" y="455.2" width="0.8" height="0.8"/><rect x="64.6" y="470.4" width="0.8" height="0.8"/><rect x="55.7" y="470.2" width="0.8" height="0.8"/><rect x="56.6" y="451.0" width="0.8" height="0.8"/><rect x="58.8" y="445.6" width="0.8" height="0.8"/><rect x="42.3" y="449.3" width="0.8" height="0.8"/><rect x="56.6" y="443.0" width="0.8" height="0.8"/><rect x="62.5" y="446.5" width="0.8" height="0.8"/><rect x="55.2" y="455.3" width="0.8" height="0.8"/><rect x="60.6" y="456.0" width="0.8" height="0.8"/><rect x="41.6" y="448.8" width="0.8" height="0.8"/><rect x="57.6" y="458.1" width="0.8" height="0.8"/><rect x="62.0" y="450.1" width="0.8" height="0.8"/><rect x="46.5" y="467.9" width="0.8" height="0.8"/><rect x="56.3" y="448.5" width="0.8" height="0.8"/><rect x="63.5" y="445.3" width="0.8" height="0.8"/><rect x="45.8" y="470.0" width="0.8" height="0.8"/><rect x="60.2" y="452.1" width="0.8" height="0.8"/><rect x="43.7" y="458.6" width="0.8" height="0.8"/><rect x="43.1" y="444.8" width="0.8" height="0.8"/><rect x="54.6" y="456.5" width="0.8" height="0.8"/><rect x="60.3" y="458.9" width="0.8" height="0.8"/><rect x="57.8" y="444.2" width="0.8" height="0.8"/><rect x="50.9" y="467.0" width="0.8" height="0.8"/><rect x="60.5" y="466.8" width="0.8" height="0.8"/><rect x="57.5" y="453.3" width="0.8" height="0.8"/><rect x="43.9" y="447.7" width="0.8" height="0.8"/><rect x="44.6" y="465.5" width="0.8" height="0.8"/><rect x="52.2" y="462.3" width="0.8" height="0.8"/><rect x="61.9" y="462.7" width="0.8" height="0.8"/><rect x="59.4" y="452.1" width="0.8" height="0.8"/><rect x="61.3" y="444.1" width="0.8" height="0.8"/><rect x="64.4" y="468.8" width="0.8" height="0.8"/><rect x="49.4" y="460.3" width="0.8" height="0.8"/><rect x="52.5" y="444.5" width="0.8" height="0.8"/><rect x="51.7" y="443.2" width="0.8" height="0.8"/><rect x="52.8" y="468.5" width="0.8" height="0.8"/><rect x="64.2" y="450.7" width="0.8" height="0.8"/><rect x="55.7" y="446.0" width="0.8" height="0.8"/><rect x="64.4" y="457.0" width="0.8" height="0.8"/><rect x="50.7" y="457.5" width="0.8" height="0.8"/><rect x="49.0" y="450.7" width="0.8" height="0.8"/><rect x="54.7" y="458.6" width="0.8" height="0.8"/><rect x="52.9" y="459.8" width="0.8" height="0.8"/><rect x="59.2" y="447.0" width="0.8" height="0.8"/><rect x="62.0" y="454.9" width="0.8" height="0.8"/><rect x="58.3" y="446.9" width="0.8" height="0.8"/><rect x="61.4" y="465.6" width="0.8" height="0.8"/><rect x="58.3" y="463.4" width="0.8" height="0.8"/><rect x="54.6" y="453.2" width="0.8" height="0.8"/><rect x="50.4" y="462.8" width="0.8" height="0.8"/><rect x="51.6" y="455.0" width="0.8" height="0.8"/><rect x="64.4" y="448.3" width="0.8" height="0.8"/><rect x="63.1" y="442.9" width="0.8" height="0.8"/><rect x="52.3" y="445.4" width="0.8" height="0.8"/><rect x="62.2" y="469.6" width="0.8" height="0.8"/><rect x="60.7" y="457.0" width="0.8" height="0.8"/><rect x="51.7" y="447.9" width="0.8" height="0.8"/></g>
<g fill="#444"><rect x="58.4" y="465.5" width="0.8" height="0.8"/><rect x="63.5" y="466.1" width="0.8" height="0.8"/><rect x="55.4" y="468.8" width="0.8" height="0.8"/><rect x="59.3" y="454.7" width="0.8" height="0.8"/><rect x="61.4" y="465.2" width="0.8" height="0.8"/><rect x="52.4" y="463.6" width="0.8" height="0.8"/><rect x="53.3" y="466.2" width="0.8" height="0.8"/><rect x="63.6" y="464.9" width="0.8" height="0.8"/><rect x="51.3" y="457.4" width="0.8" height="0.8"/><rect x="51.1" y="456.4" width="0.8" height="0.8"/><rect x="56.9" y="469.4" width="0.8" height="0.8"/><rect x="60.9" y="455.7" width="0.8" height="0.8"/><rect x="60.4" y="460.4" width="0.8" height="0.8"/><rect x="54.6" y="457.6" width="0.8" height="0.8"/><rect x="51.0" y="470.9" width="0.8" height="0.8"/><rect x="54.5" y="462.7" width="0.8" height="0.8"/><rect x="50.4" y="470.6" width="0.8" height="0.8"/><rect x="63.0" y="462.5" width="0.8" height="0.8"/><rect x="53.1" y="455.4" width="0.8" height="0.8"/><rect x="61.6" y="460.3" width="0.8" height="0.8"/><rect x="61.0" y="460.1" width="0.8" height="0.8"/><rect x="63.0" y="463.5" width="0.8" height="0.8"/><rect x="53.0" y="461.6" width="0.8" height="0.8"/><rect x="52.7" y="460.2" width="0.8" height="0.8"/><rect x="56.4" y="468.9" width="0.8" height="0.8"/><rect x="52.0" y="461.1" width="0.8" height="0.8"/><rect x="63.2" y="459.8" width="0.8" height="0.8"/><rect x="51.2" y="464.2" width="0.8" height="0.8"/><rect x="55.2" y="455.8" width="0.8" height="0.8"/><rect x="61.2" y="460.9" width="0.8" height="0.8"/><rect x="52.3" y="459.7" width="0.8" height="0.8"/><rect x="50.1" y="466.6" width="0.8" height="0.8"/><rect x="51.8" y="467.3" width="0.8" height="0.8"/><rect x="53.4" y="469.6" width="0.8" height="0.8"/><rect x="55.8" y="469.7" width="0.8" height="0.8"/><rect x="51.8" y="461.0" width="0.8" height="0.8"/><rect x="54.9" y="471.9" width="0.8" height="0.8"/><rect x="62.9" y="463.7" width="0.8" height="0.8"/><rect x="55.9" y="457.0" width="0.8" height="0.8"/><rect x="53.3" y="470.8" width="0.8" height="0.8"/><rect x="54.8" y="459.0" width="0.8" height="0.8"/><rect x="52.6" y="470.3" width="0.8" height="0.8"/><rect x="56.8" y="464.4" width="0.8" height="0.8"/><rect x="60.4" y="461.5" width="0.8" height="0.8"/><rect x="57.5" y="460.2" width="0.8" height="0.8"/><rect x="50.8" y="457.8" width="0.8" height="0.8"/><rect x="54.1" y="466.5" width="0.8" height="0.8"/><rect x="57.5" y="461.1" width="0.8" height="0.8"/><rect x="53.8" y="455.8" width="0.8" height="0.8"/><rect x="52.8" y="456.9" width="0.8" height="0.8"/><rect x="53.6" y="461.9" width="0.8" height="0.8"/><rect x="60.4" y="470.5" width="0.8" height="0.8"/><rect x="51.5" y="459.6" width="0.8" height="0.8"/><rect x="59.1" y="466.5" width="0.8" height="0.8"/><rect x="55.4" y="466.5" width="0.8" height="0.8"/><rect x="53.1" y="469.8" width="0.8" height="0.8"/><rect x="58.4" y="457.9" width="0.8" height="0.8"/><rect x="62.4" y="467.8" width="0.8" height="0.8"/><rect x="50.2" y="455.3" width="0.8" height="0.8"/><rect x="52.4" y="460.1" width="0.8" height="0.8"/><rect x="50.1" y="460.2" width="0.8" height="0.8"/><rect x="52.1" y="469.7" width="0.8" height="0.8"/><rect x="59.6" y="459.2" width="0.8" height="0.8"/><rect x="59.2" y="460.9" width="0.8" height="0.8"/><rect x="61.3" y="468.6" width="0.8" height="0.8"/><rect x="50.2" y="470.0" width="0.8" height="0.8"/><rect x="50.3" y="459.0" width="0.8" height="0.8"/><rect x="60.7" y="458.4" width="0.8" height="0.8"/><rect x="60.1" y="456.2" width="0.8" height="0.8"/><rect x="55.1" y="468.1" width="0.8" height="0.8"/><rect x="53.5" y="456.2" width="0.8" height="0.8"/><rect x="55.5" y="471.3" width="0.8" height="0.8"/><rect x="59.9" y="469.5" width="0.8" height="0.8"/><rect x="55.9" y="455.6" width="0.8" height="0.8"/><rect x="55.6" y="463.8" width="0.8" height="0.8"/><rect x="51.4" y="468.3" width="0.8" height="0.8"/><rect x="59.4" y="469.1" width="0.8" height="0.8"/><rect x="57.2" y="472.0" width="0.8" height="0.8"/><rect x="57.2" y="459.1" width="0.8" height="0.8"/><rect x="54.6" y="462.0" width="0.8" height="0.8"/><rect x="53.9" y="457.1" width="0.8" height="0.8"/><rect x="59.0" y="458.9" width="0.8" height="0.8"/><rect x="56.8" y="462.6" width="0.8" height="0.8"/><rect x="54.5" y="460.0" width="0.8" height="0.8"/><rect x="51.6" y="464.7" width="0.8" height="0.8"/><rect x="61.0" y="464.5" width="0.8" height="0.8"/><rect x="52.0" y="466.6" width="0.8" height="0.8"/><rect x="56.1" y="468.4" width="0.8" height="0.8"/><rect x="51.2" y="459.8" width="0.8" height="0.8"/><rect x="52.5" y="455.7" width="0.8" height="0.8"/><rect x="52.4" y="467.2" width="0.8" height="0.8"/><rect x="51.2" y="460.4" width="0.8" height="0.8"/><rect x="54.7" y="457.6" width="0.8" height="0.8"/><rect x="49.8" y="472.5" width="0.8" height="0.8"/><rect x="50.8" y="467.5" width="0.8" height="0.8"/><rect x="57.5" y="456.6" width="0.8" height="0.8"/><rect x="55.7" y="458.0" width="0.8" height="0.8"/><rect x="49.7" y="471.2" width="0.8" height="0.8"/><rect x="58.4" y="471.4" width="0.8" height="0.8"/><rect x="53.1" y="459.0" width="0.8" height="0.8"/><rect x="50.0" y="468.5" width="0.8" height="0.8"/><rect x="53.7" y="457.9" width="0.8" height="0.8"/><rect x="61.4" y="471.3" width="0.8" height="0.8"/><rect x="60.6" y="469.5" width="0.8" height="0.8"/><rect x="54.2" y="457.9" width="0.8" height="0.8"/><rect x="54.1" y="461.2" width="0.8" height="0.8"/><rect x="54.8" y="469.6" width="0.8" height="0.8"/><rect x="50.2" y="464.8" width="0.8" height="0.8"/><rect x="61.1" y="467.3" width="0.8" height="0.8"/><rect x="62.8" y="463.5" width="0.8" height="0.8"/></g>
<path d="M39.05,481.00 C39.14,479.61 39.58,477.15 40.49,475.81 C41.40,474.46 43.02,473.69 44.53,472.92 C46.05,472.15 48.09,471.86 49.58,471.19 C51.07,470.52 52.40,469.60 53.48,468.88 C54.56,468.16 55.28,467.29 56.08,466.86 C56.87,466.43 57.59,466.04 58.24,466.28 C58.89,466.52 59.68,467.20 59.97,468.30 C60.26,469.41 60.26,471.29 59.97,472.92 C59.68,474.56 59.01,476.58 58.24,478.12 C57.47,479.65 56.48,480.95 55.35,482.16 C54.22,483.36 52.90,484.51 51.46,485.33 C50.01,486.15 48.21,486.87 46.70,487.06 C45.18,487.25 43.50,486.97 42.37,486.48 C41.24,486.00 40.47,485.09 39.91,484.18 C39.36,483.26 38.95,482.40 39.05,481.00Z" fill="#000"/>
<g fill="#111"><rect x="47.6" y="487.4" width="0.9" height="0.9"/><rect x="52.9" y="484.0" width="0.9" height="0.9"/><rect x="56.4" y="465.8" width="0.9" height="0.9"/><rect x="58.2" y="477.4" width="0.9" height="0.9"/><rect x="39.7" y="484.8" width="0.9" height="0.9"/><rect x="49.7" y="470.4" width="0.9" height="0.9"/><rect x="39.4" y="484.1" width="0.9" height="0.9"/><rect x="55.5" y="465.8" width="0.9" height="0.9"/><rect x="42.7" y="473.2" width="0.9" height="0.9"/><rect x="57.8" y="477.7" width="0.9" height="0.9"/><rect x="53.2" y="484.0" width="0.9" height="0.9"/><rect x="39.7" y="486.3" width="0.9" height="0.9"/><rect x="53.5" y="483.5" width="0.9" height="0.9"/><rect x="57.8" y="478.9" width="0.9" height="0.9"/><rect x="44.7" y="487.8" width="0.9" height="0.9"/><rect x="44.2" y="471.7" width="0.9" height="0.9"/><rect x="38.6" y="475.9" width="0.9" height="0.9"/><rect x="51.4" y="484.9" width="0.9" height="0.9"/><rect x="38.1" y="479.2" width="0.9" height="0.9"/><rect x="55.3" y="466.5" width="0.9" height="0.9"/><rect x="54.0" y="482.5" width="0.9" height="0.9"/><rect x="47.8" y="471.0" width="0.9" height="0.9"/><rect x="49.5" y="486.7" width="0.9" height="0.9"/><rect x="60.6" y="469.8" width="0.9" height="0.9"/><rect x="55.1" y="466.5" width="0.9" height="0.9"/><rect x="38.4" y="476.3" width="0.9" height="0.9"/><rect x="59.4" y="473.1" width="0.9" height="0.9"/><rect x="38.6" y="479.7" width="0.9" height="0.9"/><rect x="38.4" y="477.8" width="0.9" height="0.9"/><rect x="43.8" y="472.3" width="0.9" height="0.9"/><rect x="50.8" y="485.3" width="0.9" height="0.9"/><rect x="40.3" y="474.6" width="0.9" height="0.9"/><rect x="42.1" y="487.3" width="0.9" height="0.9"/><rect x="47.0" y="487.4" width="0.9" height="0.9"/><rect x="58.7" y="465.6" width="0.9" height="0.9"/><rect x="44.5" y="487.4" width="0.9" height="0.9"/><rect x="59.1" y="476.9" width="0.9" height="0.9"/><rect x="57.7" y="465.4" width="0.9" height="0.9"/><rect x="49.4" y="470.0" width="0.9" height="0.9"/><rect x="52.2" y="484.7" width="0.9" height="0.9"/><rect x="55.4" y="482.6" width="0.9" height="0.9"/><rect x="38.9" y="483.8" width="0.9" height="0.9"/><rect x="38.3" y="480.5" width="0.9" height="0.9"/><rect x="38.3" y="480.8" width="0.9" height="0.9"/><rect x="58.9" y="477.6" width="0.9" height="0.9"/><rect x="47.9" y="486.5" width="0.9" height="0.9"/><rect x="53.4" y="468.1" width="0.9" height="0.9"/><rect x="38.4" y="480.9" width="0.9" height="0.9"/><rect x="38.0" y="484.2" width="0.9" height="0.9"/><rect x="39.2" y="475.4" width="0.9" height="0.9"/><rect x="59.2" y="466.6" width="0.9" height="0.9"/><rect x="59.1" y="465.2" width="0.9" height="0.9"/><rect x="45.2" y="486.8" width="0.9" height="0.9"/><rect x="52.8" y="468.3" width="0.9" height="0.9"/><rect x="41.1" y="486.7" width="0.9" height="0.9"/><rect x="39.8" y="475.5" width="0.9" height="0.9"/><rect x="41.7" y="474.0" width="0.9" height="0.9"/><rect x="59.0" y="464.7" width="0.9" height="0.9"/><rect x="59.4" y="474.2" width="0.9" height="0.9"/><rect x="53.2" y="468.0" width="0.9" height="0.9"/><rect x="44.9" y="487.5" width="0.9" height="0.9"/><rect x="59.6" y="467.1" width="0.9" height="0.9"/><rect x="48.8" y="485.9" width="0.9" height="0.9"/><rect x="55.9" y="480.6" width="0.9" height="0.9"/><rect x="52.6" y="484.2" width="0.9" height="0.9"/><rect x="52.8" y="483.5" width="0.9" height="0.9"/><rect x="38.0" y="483.9" width="0.9" height="0.9"/><rect x="59.9" y="473.0" width="0.9" height="0.9"/><rect x="51.6" y="485.6" width="0.9" height="0.9"/><rect x="60.6" y="468.9" width="0.9" height="0.9"/><rect x="41.2" y="486.8" width="0.9" height="0.9"/><rect x="43.0" y="472.7" width="0.9" height="0.9"/><rect x="39.4" y="477.5" width="0.9" height="0.9"/><rect x="38.8" y="479.2" width="0.9" height="0.9"/><rect x="47.6" y="487.1" width="0.9" height="0.9"/><rect x="58.7" y="476.2" width="0.9" height="0.9"/><rect x="45.7" y="487.5" width="0.9" height="0.9"/><rect x="38.4" y="484.2" width="0.9" height="0.9"/><rect x="56.2" y="480.4" width="0.9" height="0.9"/><rect x="46.1" y="487.2" width="0.9" height="0.9"/><rect x="59.5" y="469.1" width="0.9" height="0.9"/><rect x="60.0" y="470.7" width="0.9" height="0.9"/><rect x="45.4" y="486.7" width="0.9" height="0.9"/><rect x="38.7" y="477.4" width="0.9" height="0.9"/><rect x="38.0" y="484.0" width="0.9" height="0.9"/><rect x="37.7" y="482.8" width="0.9" height="0.9"/><rect x="59.9" y="472.2" width="0.9" height="0.9"/><rect x="46.6" y="471.1" width="0.9" height="0.9"/><rect x="43.3" y="472.8" width="0.9" height="0.9"/><rect x="60.7" y="471.6" width="0.9" height="0.9"/><rect x="58.2" y="477.1" width="0.9" height="0.9"/><rect x="51.9" y="485.4" width="0.9" height="0.9"/><rect x="40.4" y="485.9" width="0.9" height="0.9"/><rect x="42.7" y="486.4" width="0.9" height="0.9"/><rect x="45.8" y="471.6" width="0.9" height="0.9"/><rect x="54.5" y="483.3" width="0.9" height="0.9"/><rect x="41.3" y="486.7" width="0.9" height="0.9"/><rect x="39.3" y="474.9" width="0.9" height="0.9"/><rect x="39.5" y="484.0" width="0.9" height="0.9"/><rect x="60.0" y="468.2" width="0.9" height="0.9"/><rect x="54.8" y="482.2" width="0.9" height="0.9"/><rect x="37.7" y="480.8" width="0.9" height="0.9"/><rect x="39.7" y="476.1" width="0.9" height="0.9"/><rect x="54.4" y="466.6" width="0.9" height="0.9"/><rect x="56.9" y="465.1" width="0.9" height="0.9"/><rect x="43.0" y="473.1" width="0.9" height="0.9"/><rect x="57.8" y="465.6" width="0.9" height="0.9"/><rect x="52.8" y="484.2" width="0.9" height="0.9"/><rect x="59.1" y="475.3" width="0.9" height="0.9"/><rect x="58.5" y="466.3" width="0.9" height="0.9"/></g>
<g fill="#777"><rect x="133.1" y="468.9" width="0.8" height="0.8"/><rect x="134.2" y="448.7" width="0.8" height="0.8"/><rect x="127.8" y="452.2" width="0.8" height="0.8"/><rect x="116.3" y="453.1" width="0.8" height="0.8"/><rect x="137.0" y="446.5" width="0.8" height="0.8"/><rect x="119.2" y="469.5" width="0.8" height="0.8"/><rect x="142.2" y="444.2" width="0.8" height="0.8"/><rect x="127.9" y="467.5" width="0.8" height="0.8"/><rect x="141.4" y="469.4" width="0.8" height="0.8"/><rect x="143.9" y="454.0" width="0.8" height="0.8"/><rect x="143.0" y="445.5" width="0.8" height="0.8"/><rect x="131.0" y="445.9" width="0.8" height="0.8"/><rect x="135.3" y="459.0" width="0.8" height="0.8"/><rect x="142.6" y="469.5" width="0.8" height="0.8"/><rect x="135.9" y="444.7" width="0.8" height="0.8"/><rect x="134.3" y="455.8" width="0.8" height="0.8"/><rect x="139.6" y="442.9" width="0.8" height="0.8"/><rect x="135.9" y="462.5" width="0.8" height="0.8"/><rect x="123.6" y="443.6" width="0.8" height="0.8"/><rect x="127.8" y="454.4" width="0.8" height="0.8"/><rect x="133.1" y="469.0" width="0.8" height="0.8"/><rect x="126.3" y="462.3" width="0.8" height="0.8"/><rect x="120.9" y="456.1" width="0.8" height="0.8"/><rect x="135.9" y="447.1" width="0.8" height="0.8"/><rect x="134.9" y="460.4" width="0.8" height="0.8"/><rect x="133.6" y="466.4" width="0.8" height="0.8"/><rect x="133.3" y="448.2" width="0.8" height="0.8"/><rect x="131.6" y="462.9" width="0.8" height="0.8"/><rect x="117.7" y="442.7" width="0.8" height="0.8"/><rect x="136.5" y="442.7" width="0.8" height="0.8"/><rect x="131.3" y="451.6" width="0.8" height="0.8"/><rect x="130.0" y="449.8" width="0.8" height="0.8"/><rect x="118.1" y="447.1" width="0.8" height="0.8"/><rect x="134.3" y="462.1" width="0.8" height="0.8"/><rect x="139.4" y="463.0" width="0.8" height="0.8"/><rect x="132.4" y="444.0" width="0.8" height="0.8"/><rect x="136.4" y="453.4" width="0.8" height="0.8"/><rect x="118.4" y="459.0" width="0.8" height="0.8"/><rect x="132.6" y="446.5" width="0.8" height="0.8"/><rect x="133.1" y="445.6" width="0.8" height="0.8"/><rect x="131.6" y="462.9" width="0.8" height="0.8"/><rect x="137.3" y="448.8" width="0.8" height="0.8"/><rect x="134.8" y="462.0" width="0.8" height="0.8"/><rect x="142.7" y="448.3" width="0.8" height="0.8"/><rect x="135.5" y="449.9" width="0.8" height="0.8"/><rect x="117.3" y="459.7" width="0.8" height="0.8"/><rect x="117.1" y="457.0" width="0.8" height="0.8"/><rect x="131.2" y="452.8" width="0.8" height="0.8"/><rect x="131.5" y="464.3" width="0.8" height="0.8"/><rect x="123.2" y="461.3" width="0.8" height="0.8"/><rect x="138.7" y="453.0" width="0.8" height="0.8"/><rect x="134.2" y="451.0" width="0.8" height="0.8"/><rect x="138.1" y="464.2" width="0.8" height="0.8"/><rect x="118.2" y="453.6" width="0.8" height="0.8"/><rect x="138.6" y="446.4" width="0.8" height="0.8"/><rect x="140.6" y="447.3" width="0.8" height="0.8"/><rect x="138.5" y="454.5" width="0.8" height="0.8"/><rect x="129.6" y="462.6" width="0.8" height="0.8"/><rect x="125.8" y="447.9" width="0.8" height="0.8"/><rect x="142.6" y="469.3" width="0.8" height="0.8"/><rect x="141.1" y="465.5" width="0.8" height="0.8"/><rect x="126.6" y="453.1" width="0.8" height="0.8"/><rect x="126.9" y="445.7" width="0.8" height="0.8"/><rect x="142.2" y="463.8" width="0.8" height="0.8"/><rect x="125.7" y="465.6" width="0.8" height="0.8"/><rect x="135.9" y="460.9" width="0.8" height="0.8"/><rect x="141.7" y="448.6" width="0.8" height="0.8"/><rect x="123.1" y="445.4" width="0.8" height="0.8"/><rect x="139.7" y="469.3" width="0.8" height="0.8"/><rect x="134.6" y="467.7" width="0.8" height="0.8"/><rect x="142.6" y="463.1" width="0.8" height="0.8"/><rect x="141.8" y="458.7" width="0.8" height="0.8"/><rect x="133.2" y="465.8" width="0.8" height="0.8"/><rect x="135.6" y="448.4" width="0.8" height="0.8"/><rect x="119.3" y="468.2" width="0.8" height="0.8"/><rect x="133.3" y="454.7" width="0.8" height="0.8"/><rect x="128.5" y="445.2" width="0.8" height="0.8"/><rect x="140.2" y="464.7" width="0.8" height="0.8"/><rect x="128.6" y="453.3" width="0.8" height="0.8"/><rect x="125.5" y="463.1" width="0.8" height="0.8"/><rect x="132.0" y="456.6" width="0.8" height="0.8"/><rect x="132.4" y="464.9" width="0.8" height="0.8"/><rect x="130.9" y="468.7" width="0.8" height="0.8"/><rect x="128.3" y="459.5" width="0.8" height="0.8"/><rect x="129.6" y="445.2" width="0.8" height="0.8"/><rect x="135.9" y="446.6" width="0.8" height="0.8"/><rect x="134.8" y="470.5" width="0.8" height="0.8"/><rect x="138.6" y="449.5" width="0.8" height="0.8"/><rect x="124.7" y="447.1" width="0.8" height="0.8"/><rect x="130.7" y="447.7" width="0.8" height="0.8"/><rect x="128.8" y="469.8" width="0.8" height="0.8"/><rect x="143.9" y="455.8" width="0.8" height="0.8"/><rect x="133.4" y="446.7" width="0.8" height="0.8"/><rect x="127.7" y="452.5" width="0.8" height="0.8"/><rect x="126.2" y="461.9" width="0.8" height="0.8"/><rect x="127.6" y="454.7" width="0.8" height="0.8"/><rect x="132.2" y="461.2" width="0.8" height="0.8"/><rect x="132.1" y="453.9" width="0.8" height="0.8"/><rect x="134.8" y="456.0" width="0.8" height="0.8"/><rect x="123.4" y="453.0" width="0.8" height="0.8"/><rect x="126.5" y="468.2" width="0.8" height="0.8"/><rect x="120.4" y="461.9" width="0.8" height="0.8"/><rect x="120.0" y="449.0" width="0.8" height="0.8"/><rect x="141.4" y="453.4" width="0.8" height="0.8"/><rect x="144.9" y="443.7" width="0.8" height="0.8"/><rect x="134.5" y="445.7" width="0.8" height="0.8"/><rect x="128.6" y="453.5" width="0.8" height="0.8"/><rect x="136.8" y="447.5" width="0.8" height="0.8"/><rect x="132.9" y="455.2" width="0.8" height="0.8"/><rect x="133.6" y="452.0" width="0.8" height="0.8"/><rect x="132.4" y="446.6" width="0.8" height="0.8"/><rect x="127.1" y="461.9" width="0.8" height="0.8"/><rect x="139.7" y="464.6" width="0.8" height="0.8"/><rect x="135.7" y="458.6" width="0.8" height="0.8"/><rect x="138.3" y="449.9" width="0.8" height="0.8"/><rect x="123.9" y="468.4" width="0.8" height="0.8"/><rect x="143.5" y="463.8" width="0.8" height="0.8"/><rect x="133.2" y="454.6" width="0.8" height="0.8"/><rect x="118.2" y="464.4" width="0.8" height="0.8"/><rect x="128.9" y="462.9" width="0.8" height="0.8"/><rect x="137.5" y="460.8" width="0.8" height="0.8"/><rect x="130.4" y="462.8" width="0.8" height="0.8"/><rect x="135.2" y="450.4" width="0.8" height="0.8"/><rect x="127.6" y="469.2" width="0.8" height="0.8"/><rect x="119.2" y="463.6" width="0.8" height="0.8"/><rect x="131.8" y="463.3" width="0.8" height="0.8"/><rect x="134.7" y="453.1" width="0.8" height="0.8"/><rect x="140.0" y="443.5" width="0.8" height="0.8"/><rect x="137.2" y="463.0" width="0.8" height="0.8"/><rect x="143.6" y="447.8" width="0.8" height="0.8"/><rect x="140.0" y="446.0" width="0.8" height="0.8"/><rect x="130.6" y="452.0" width="0.8" height="0.8"/><rect x="123.1" y="468.2" width="0.8" height="0.8"/><rect x="138.7" y="460.3" width="0.8" height="0.8"/><rect x="141.2" y="455.0" width="0.8" height="0.8"/><rect x="137.9" y="449.1" width="0.8" height="0.8"/><rect x="127.8" y="447.3" width="0.8" height="0.8"/><rect x="129.7" y="456.4" width="0.8" height="0.8"/><rect x="133.3" y="447.1" width="0.8" height="0.8"/><rect x="127.2" y="457.9" width="0.8" height="0.8"/><rect x="116.5" y="448.3" width="0.8" height="0.8"/><rect x="141.5" y="461.4" width="0.8" height="0.8"/><rect x="122.9" y="469.8" width="0.8" height="0.8"/><rect x="130.8" y="445.9" width="0.8" height="0.8"/><rect x="133.3" y="465.7" width="0.8" height="0.8"/><rect x="142.0" y="457.0" width="0.8" height="0.8"/><rect x="134.3" y="460.9" width="0.8" height="0.8"/><rect x="137.4" y="458.0" width="0.8" height="0.8"/><rect x="142.6" y="449.7" width="0.8" height="0.8"/><rect x="139.6" y="447.1" width="0.8" height="0.8"/><rect x="132.8" y="458.3" width="0.8" height="0.8"/><rect x="131.9" y="443.0" width="0.8" height="0.8"/><rect x="122.9" y="465.7" width="0.8" height="0.8"/><rect x="125.7" y="464.0" width="0.8" height="0.8"/><rect x="135.7" y="466.0" width="0.8" height="0.8"/><rect x="130.7" y="468.5" width="0.8" height="0.8"/><rect x="121.0" y="444.5" width="0.8" height="0.8"/><rect x="128.3" y="451.2" width="0.8" height="0.8"/><rect x="143.7" y="449.4" width="0.8" height="0.8"/><rect x="136.8" y="454.6" width="0.8" height="0.8"/><rect x="135.0" y="447.0" width="0.8" height="0.8"/><rect x="130.9" y="447.3" width="0.8" height="0.8"/><rect x="128.6" y="461.1" width="0.8" height="0.8"/><rect x="142.7" y="442.7" width="0.8" height="0.8"/><rect x="127.6" y="448.2" width="0.8" height="0.8"/><rect x="136.2" y="470.4" width="0.8" height="0.8"/><rect x="123.6" y="461.4" width="0.8" height="0.8"/><rect x="127.6" y="461.9" width="0.8" height="0.8"/><rect x="145.3" y="468.4" width="0.8" height="0.8"/><rect x="130.7" y="456.3" width="0.8" height="0.8"/><rect x="129.8" y="446.6" width="0.8" height="0.8"/><rect x="132.9" y="469.9" width="0.8" height="0.8"/><rect x="137.1" y="465.0" width="0.8" height="0.8"/><rect x="126.6" y="462.5" width="0.8" height="0.8"/><rect x="144.9" y="454.9" width="0.8" height="0.8"/><rect x="137.1" y="445.8" width="0.8" height="0.8"/><rect x="135.7" y="442.7" width="0.8" height="0.8"/><rect x="134.9" y="469.1" width="0.8" height="0.8"/><rect x="125.7" y="453.1" width="0.8" height="0.8"/><rect x="133.2" y="448.8" width="0.8" height="0.8"/><rect x="130.7" y="456.7" width="0.8" height="0.8"/><rect x="135.5" y="447.8" width="0.8" height="0.8"/><rect x="139.0" y="457.1" width="0.8" height="0.8"/><rect x="137.6" y="448.4" width="0.8" height="0.8"/><rect x="134.7" y="462.0" width="0.8" height="0.8"/><rect x="117.4" y="452.7" width="0.8" height="0.8"/><rect x="137.7" y="456.3" width="0.8" height="0.8"/><rect x="128.8" y="454.4" width="0.8" height="0.8"/><rect x="144.8" y="447.7" width="0.8" height="0.8"/><rect x="128.8" y="453.7" width="0.8" height="0.8"/><rect x="127.0" y="442.9" width="0.8" height="0.8"/><rect x="134.3" y="447.9" width="0.8" height="0.8"/><rect x="135.8" y="459.7" width="0.8" height="0.8"/><rect x="125.3" y="443.6" width="0.8" height="0.8"/><rect x="134.9" y="459.5" width="0.8" height="0.8"/><rect x="130.0" y="470.2" width="0.8" height="0.8"/><rect x="127.0" y="449.0" width="0.8" height="0.8"/><rect x="138.9" y="466.2" width="0.8" height="0.8"/><rect x="127.2" y="465.0" width="0.8" height="0.8"/><rect x="122.0" y="442.7" width="0.8" height="0.8"/><rect x="130.8" y="450.7" width="0.8" height="0.8"/><rect x="131.1" y="470.1" width="0.8" height="0.8"/><rect x="130.9" y="456.4" width="0.8" height="0.8"/><rect x="132.5" y="450.6" width="0.8" height="0.8"/><rect x="144.3" y="452.9" width="0.8" height="0.8"/><rect x="135.3" y="457.5" width="0.8" height="0.8"/><rect x="125.5" y="466.3" width="0.8" height="0.8"/><rect x="128.1" y="469.4" width="0.8" height="0.8"/><rect x="127.7" y="447.1" width="0.8" height="0.8"/><rect x="135.5" y="455.1" width="0.8" height="0.8"/><rect x="136.1" y="461.5" width="0.8" height="0.8"/><rect x="129.8" y="448.1" width="0.8" height="0.8"/><rect x="135.0" y="462.0" width="0.8" height="0.8"/><rect x="134.9" y="446.4" width="0.8" height="0.8"/><rect x="132.1" y="446.4" width="0.8" height="0.8"/><rect x="134.1" y="446.4" width="0.8" height="0.8"/><rect x="136.0" y="457.9" width="0.8" height="0.8"/><rect x="139.0" y="458.6" width="0.8" height="0.8"/><rect x="128.9" y="465.8" width="0.8" height="0.8"/><rect x="138.2" y="452.8" width="0.8" height="0.8"/><rect x="118.8" y="459.7" width="0.8" height="0.8"/><rect x="123.6" y="466.3" width="0.8" height="0.8"/><rect x="140.4" y="457.2" width="0.8" height="0.8"/><rect x="116.4" y="452.0" width="0.8" height="0.8"/><rect x="117.8" y="460.1" width="0.8" height="0.8"/><rect x="137.6" y="449.0" width="0.8" height="0.8"/><rect x="129.5" y="464.6" width="0.8" height="0.8"/><rect x="137.9" y="465.9" width="0.8" height="0.8"/><rect x="136.5" y="453.7" width="0.8" height="0.8"/><rect x="130.9" y="456.6" width="0.8" height="0.8"/></g>
<g fill="#111"><rect x="129.9" y="454.6" width="0.9" height="0.9"/><rect x="135.4" y="454.9" width="0.9" height="0.9"/><rect x="132.4" y="448.9" width="0.9" height="0.9"/><rect x="138.9" y="469.2" width="0.9" height="0.9"/><rect x="138.2" y="472.8" width="0.9" height="0.9"/><rect x="130.0" y="469.5" width="0.9" height="0.9"/><rect x="134.7" y="455.5" width="0.9" height="0.9"/><rect x="132.9" y="458.7" width="0.9" height="0.9"/><rect x="134.6" y="467.7" width="0.9" height="0.9"/><rect x="131.1" y="463.8" width="0.9" height="0.9"/><rect x="135.6" y="473.9" width="0.9" height="0.9"/><rect x="139.4" y="446.7" width="0.9" height="0.9"/><rect x="131.4" y="465.6" width="0.9" height="0.9"/><rect x="130.7" y="464.4" width="0.9" height="0.9"/><rect x="132.5" y="453.1" width="0.9" height="0.9"/><rect x="133.4" y="473.1" width="0.9" height="0.9"/><rect x="134.1" y="455.9" width="0.9" height="0.9"/><rect x="132.7" y="469.3" width="0.9" height="0.9"/><rect x="133.1" y="451.9" width="0.9" height="0.9"/><rect x="136.3" y="474.8" width="0.9" height="0.9"/><rect x="134.4" y="471.3" width="0.9" height="0.9"/><rect x="135.4" y="459.6" width="0.9" height="0.9"/><rect x="133.3" y="465.3" width="0.9" height="0.9"/><rect x="132.7" y="468.6" width="0.9" height="0.9"/><rect x="133.0" y="461.8" width="0.9" height="0.9"/><rect x="132.9" y="472.7" width="0.9" height="0.9"/><rect x="130.8" y="466.8" width="0.9" height="0.9"/><rect x="134.1" y="475.5" width="0.9" height="0.9"/><rect x="133.0" y="452.5" width="0.9" height="0.9"/><rect x="133.1" y="471.9" width="0.9" height="0.9"/><rect x="135.0" y="451.0" width="0.9" height="0.9"/><rect x="138.0" y="462.8" width="0.9" height="0.9"/><rect x="131.9" y="460.9" width="0.9" height="0.9"/><rect x="134.7" y="460.0" width="0.9" height="0.9"/><rect x="131.6" y="474.4" width="0.9" height="0.9"/><rect x="135.3" y="453.5" width="0.9" height="0.9"/><rect x="133.5" y="470.9" width="0.9" height="0.9"/><rect x="130.4" y="449.5" width="0.9" height="0.9"/><rect x="131.2" y="453.1" width="0.9" height="0.9"/><rect x="134.8" y="457.8" width="0.9" height="0.9"/><rect x="132.0" y="451.8" width="0.9" height="0.9"/><rect x="133.4" y="466.8" width="0.9" height="0.9"/><rect x="138.0" y="458.0" width="0.9" height="0.9"/><rect x="131.6" y="445.0" width="0.9" height="0.9"/><rect x="134.7" y="473.3" width="0.9" height="0.9"/><rect x="127.8" y="474.7" width="0.9" height="0.9"/><rect x="130.0" y="467.6" width="0.9" height="0.9"/><rect x="134.3" y="464.3" width="0.9" height="0.9"/><rect x="133.9" y="474.0" width="0.9" height="0.9"/><rect x="136.8" y="472.6" width="0.9" height="0.9"/><rect x="132.2" y="449.3" width="0.9" height="0.9"/><rect x="129.2" y="468.3" width="0.9" height="0.9"/><rect x="135.6" y="474.0" width="0.9" height="0.9"/><rect x="130.3" y="473.4" width="0.9" height="0.9"/><rect x="133.1" y="461.8" width="0.9" height="0.9"/><rect x="137.0" y="473.2" width="0.9" height="0.9"/><rect x="131.9" y="465.5" width="0.9" height="0.9"/><rect x="133.7" y="463.3" width="0.9" height="0.9"/><rect x="131.2" y="466.7" width="0.9" height="0.9"/><rect x="136.0" y="464.5" width="0.9" height="0.9"/><rect x="135.2" y="450.7" width="0.9" height="0.9"/><rect x="130.6" y="475.5" width="0.9" height="0.9"/><rect x="132.6" y="446.2" width="0.9" height="0.9"/><rect x="132.6" y="473.1" width="0.9" height="0.9"/><rect x="135.1" y="475.4" width="0.9" height="0.9"/><rect x="135.3" y="453.9" width="0.9" height="0.9"/><rect x="133.8" y="462.1" width="0.9" height="0.9"/><rect x="135.1" y="463.3" width="0.9" height="0.9"/><rect x="134.5" y="472.7" width="0.9" height="0.9"/><rect x="133.9" y="453.3" width="0.9" height="0.9"/><rect x="133.3" y="470.6" width="0.9" height="0.9"/><rect x="132.0" y="455.7" width="0.9" height="0.9"/><rect x="134.6" y="472.4" width="0.9" height="0.9"/><rect x="132.1" y="462.0" width="0.9" height="0.9"/><rect x="134.3" y="459.1" width="0.9" height="0.9"/><rect x="132.3" y="468.8" width="0.9" height="0.9"/><rect x="133.3" y="465.4" width="0.9" height="0.9"/><rect x="135.6" y="475.1" width="0.9" height="0.9"/><rect x="135.4" y="459.3" width="0.9" height="0.9"/><rect x="133.5" y="457.3" width="0.9" height="0.9"/><rect x="133.5" y="473.9" width="0.9" height="0.9"/><rect x="133.7" y="462.8" width="0.9" height="0.9"/><rect x="134.5" y="455.5" width="0.9" height="0.9"/><rect x="132.3" y="474.7" width="0.9" height="0.9"/><rect x="138.0" y="450.6" width="0.9" height="0.9"/><rect x="133.2" y="449.1" width="0.9" height="0.9"/><rect x="133.9" y="475.3" width="0.9" height="0.9"/><rect x="135.1" y="472.0" width="0.9" height="0.9"/><rect x="134.6" y="474.9" width="0.9" height="0.9"/><rect x="133.8" y="471.9" width="0.9" height="0.9"/><rect x="133.1" y="474.9" width="0.9" height="0.9"/><rect x="131.1" y="465.0" width="0.9" height="0.9"/><rect x="132.2" y="472.0" width="0.9" height="0.9"/><rect x="133.6" y="470.7" width="0.9" height="0.9"/><rect x="132.4" y="466.0" width="0.9" height="0.9"/><rect x="138.5" y="468.8" width="0.9" height="0.9"/><rect x="129.3" y="453.0" width="0.9" height="0.9"/><rect x="137.4" y="455.9" width="0.9" height="0.9"/><rect x="134.4" y="474.5" width="0.9" height="0.9"/><rect x="133.0" y="472.5" width="0.9" height="0.9"/><rect x="133.9" y="475.5" width="0.9" height="0.9"/><rect x="133.3" y="470.0" width="0.9" height="0.9"/><rect x="132.9" y="474.6" width="0.9" height="0.9"/><rect x="130.0" y="457.0" width="0.9" height="0.9"/><rect x="132.5" y="453.4" width="0.9" height="0.9"/><rect x="130.8" y="442.8" width="0.9" height="0.9"/><rect x="134.1" y="472.9" width="0.9" height="0.9"/><rect x="132.7" y="475.4" width="0.9" height="0.9"/><rect x="131.8" y="454.4" width="0.9" height="0.9"/><rect x="133.2" y="467.6" width="0.9" height="0.9"/><rect x="132.1" y="446.1" width="0.9" height="0.9"/><rect x="134.3" y="468.2" width="0.9" height="0.9"/><rect x="133.0" y="470.4" width="0.9" height="0.9"/><rect x="131.3" y="475.1" width="0.9" height="0.9"/><rect x="133.6" y="445.3" width="0.9" height="0.9"/><rect x="130.9" y="464.2" width="0.9" height="0.9"/><rect x="130.0" y="466.7" width="0.9" height="0.9"/><rect x="131.0" y="466.8" width="0.9" height="0.9"/><rect x="134.2" y="453.9" width="0.9" height="0.9"/><rect x="130.9" y="451.0" width="0.9" height="0.9"/><rect x="131.5" y="465.5" width="0.9" height="0.9"/><rect x="137.5" y="473.5" width="0.9" height="0.9"/><rect x="132.9" y="467.7" width="0.9" height="0.9"/><rect x="133.8" y="448.1" width="0.9" height="0.9"/><rect x="132.1" y="467.7" width="0.9" height="0.9"/><rect x="135.9" y="458.5" width="0.9" height="0.9"/><rect x="135.9" y="462.5" width="0.9" height="0.9"/><rect x="132.4" y="466.0" width="0.9" height="0.9"/><rect x="131.1" y="461.9" width="0.9" height="0.9"/><rect x="129.8" y="472.1" width="0.9" height="0.9"/><rect x="133.8" y="462.6" width="0.9" height="0.9"/><rect x="131.2" y="449.4" width="0.9" height="0.9"/><rect x="130.6" y="475.0" width="0.9" height="0.9"/><rect x="134.3" y="468.9" width="0.9" height="0.9"/><rect x="132.8" y="448.6" width="0.9" height="0.9"/><rect x="133.9" y="443.7" width="0.9" height="0.9"/><rect x="131.2" y="475.5" width="0.9" height="0.9"/><rect x="131.0" y="459.9" width="0.9" height="0.9"/><rect x="133.4" y="459.7" width="0.9" height="0.9"/><rect x="136.1" y="450.4" width="0.9" height="0.9"/><rect x="134.3" y="465.7" width="0.9" height="0.9"/><rect x="133.1" y="474.3" width="0.9" height="0.9"/><rect x="135.1" y="470.7" width="0.9" height="0.9"/><rect x="135.0" y="456.4" width="0.9" height="0.9"/><rect x="131.0" y="455.7" width="0.9" height="0.9"/><rect x="137.7" y="472.9" width="0.9" height="0.9"/><rect x="135.4" y="459.3" width="0.9" height="0.9"/><rect x="133.3" y="458.7" width="0.9" height="0.9"/><rect x="134.1" y="458.7" width="0.9" height="0.9"/><rect x="131.1" y="475.5" width="0.9" height="0.9"/><rect x="135.9" y="466.6" width="0.9" height="0.9"/><rect x="138.1" y="470.1" width="0.9" height="0.9"/><rect x="133.8" y="461.1" width="0.9" height="0.9"/><rect x="134.3" y="469.8" width="0.9" height="0.9"/><rect x="133.3" y="474.3" width="0.9" height="0.9"/><rect x="133.5" y="458.1" width="0.9" height="0.9"/><rect x="131.7" y="471.1" width="0.9" height="0.9"/><rect x="133.5" y="452.9" width="0.9" height="0.9"/><rect x="135.5" y="470.6" width="0.9" height="0.9"/><rect x="132.9" y="463.0" width="0.9" height="0.9"/><rect x="135.2" y="452.1" width="0.9" height="0.9"/><rect x="131.0" y="474.5" width="0.9" height="0.9"/><rect x="132.1" y="455.6" width="0.9" height="0.9"/><rect x="133.0" y="475.1" width="0.9" height="0.9"/><rect x="132.4" y="445.9" width="0.9" height="0.9"/><rect x="135.8" y="475.5" width="0.9" height="0.9"/><rect x="131.2" y="455.9" width="0.9" height="0.9"/><rect x="135.3" y="468.9" width="0.9" height="0.9"/><rect x="132.0" y="473.4" width="0.9" height="0.9"/><rect x="133.5" y="468.1" width="0.9" height="0.9"/><rect x="128.5" y="464.6" width="0.9" height="0.9"/><rect x="129.6" y="467.5" width="0.9" height="0.9"/><rect x="134.2" y="474.4" width="0.9" height="0.9"/><rect x="135.1" y="463.9" width="0.9" height="0.9"/><rect x="134.5" y="470.7" width="0.9" height="0.9"/><rect x="133.1" y="444.3" width="0.9" height="0.9"/><rect x="135.4" y="468.4" width="0.9" height="0.9"/><rect x="134.2" y="466.8" width="0.9" height="0.9"/><rect x="135.2" y="472.4" width="0.9" height="0.9"/><rect x="130.6" y="444.2" width="0.9" height="0.9"/><rect x="137.1" y="470.2" width="0.9" height="0.9"/><rect x="132.6" y="459.1" width="0.9" height="0.9"/><rect x="131.1" y="450.9" width="0.9" height="0.9"/><rect x="132.3" y="468.1" width="0.9" height="0.9"/><rect x="135.2" y="454.5" width="0.9" height="0.9"/><rect x="133.8" y="471.3" width="0.9" height="0.9"/><rect x="133.5" y="474.6" width="0.9" height="0.9"/><rect x="136.3" y="475.3" width="0.9" height="0.9"/><rect x="135.7" y="466.4" width="0.9" height="0.9"/><rect x="134.1" y="448.9" width="0.9" height="0.9"/><rect x="132.1" y="473.0" width="0.9" height="0.9"/><rect x="135.1" y="466.7" width="0.9" height="0.9"/><rect x="132.6" y="454.2" width="0.9" height="0.9"/><rect x="134.1" y="471.3" width="0.9" height="0.9"/><rect x="133.3" y="473.9" width="0.9" height="0.9"/><rect x="130.1" y="464.0" width="0.9" height="0.9"/><rect x="132.8" y="467.1" width="0.9" height="0.9"/><rect x="132.6" y="445.7" width="0.9" height="0.9"/><rect x="130.0" y="447.8" width="0.9" height="0.9"/><rect x="131.4" y="472.2" width="0.9" height="0.9"/><rect x="136.6" y="462.5" width="0.9" height="0.9"/><rect x="133.3" y="467.4" width="0.9" height="0.9"/><rect x="137.4" y="475.4" width="0.9" height="0.9"/><rect x="134.6" y="466.5" width="0.9" height="0.9"/><rect x="132.4" y="446.9" width="0.9" height="0.9"/><rect x="132.3" y="470.7" width="0.9" height="0.9"/><rect x="136.5" y="461.5" width="0.9" height="0.9"/><rect x="131.6" y="456.5" width="0.9" height="0.9"/><rect x="134.8" y="475.2" width="0.9" height="0.9"/><rect x="132.3" y="446.5" width="0.9" height="0.9"/><rect x="132.0" y="474.6" width="0.9" height="0.9"/><rect x="132.8" y="470.7" width="0.9" height="0.9"/><rect x="132.4" y="456.2" width="0.9" height="0.9"/><rect x="136.8" y="475.5" width="0.9" height="0.9"/><rect x="132.3" y="468.7" width="0.9" height="0.9"/><rect x="132.5" y="474.3" width="0.9" height="0.9"/><rect x="129.3" y="465.6" width="0.9" height="0.9"/><rect x="132.5" y="475.5" width="0.9" height="0.9"/><rect x="129.8" y="473.9" width="0.9" height="0.9"/><rect x="131.9" y="472.6" width="0.9" height="0.9"/><rect x="128.3" y="475.0" width="0.9" height="0.9"/><rect x="131.3" y="474.8" width="0.9" height="0.9"/><rect x="135.7" y="473.1" width="0.9" height="0.9"/><rect x="133.9" y="464.0" width="0.9" height="0.9"/><rect x="130.8" y="474.2" width="0.9" height="0.9"/><rect x="132.2" y="451.5" width="0.9" height="0.9"/><rect x="136.2" y="467.4" width="0.9" height="0.9"/><rect x="133.1" y="471.9" width="0.9" height="0.9"/><rect x="131.0" y="472.2" width="0.9" height="0.9"/><rect x="133.6" y="450.6" width="0.9" height="0.9"/><rect x="130.8" y="475.3" width="0.9" height="0.9"/><rect x="132.7" y="455.1" width="0.9" height="0.9"/><rect x="134.0" y="474.8" width="0.9" height="0.9"/><rect x="133.0" y="445.4" width="0.9" height="0.9"/><rect x="131.9" y="467.7" width="0.9" height="0.9"/><rect x="136.9" y="461.1" width="0.9" height="0.9"/><rect x="136.3" y="449.5" width="0.9" height="0.9"/><rect x="134.9" y="474.7" width="0.9" height="0.9"/><rect x="136.4" y="475.1" width="0.9" height="0.9"/><rect x="133.9" y="457.2" width="0.9" height="0.9"/><rect x="133.9" y="461.5" width="0.9" height="0.9"/><rect x="132.0" y="456.0" width="0.9" height="0.9"/><rect x="132.6" y="471.3" width="0.9" height="0.9"/><rect x="134.4" y="464.8" width="0.9" height="0.9"/><rect x="133.0" y="473.3" width="0.9" height="0.9"/><rect x="131.3" y="466.8" width="0.9" height="0.9"/><rect x="132.3" y="471.2" width="0.9" height="0.9"/><rect x="132.4" y="461.5" width="0.9" height="0.9"/><rect x="129.6" y="470.8" width="0.9" height="0.9"/><rect x="131.2" y="471.4" width="0.9" height="0.9"/><rect x="134.2" y="459.3" width="0.9" height="0.9"/><rect x="129.1" y="474.9" width="0.9" height="0.9"/><rect x="133.3" y="452.4" width="0.9" height="0.9"/><rect x="135.8" y="464.8" width="0.9" height="0.9"/><rect x="132.3" y="472.4" width="0.9" height="0.9"/><rect x="134.8" y="474.5" width="0.9" height="0.9"/><rect x="133.9" y="464.4" width="0.9" height="0.9"/><rect x="132.4" y="464.5" width="0.9" height="0.9"/><rect x="130.3" y="456.1" width="0.9" height="0.9"/><rect x="132.4" y="468.7" width="0.9" height="0.9"/></g>
<path d="M117.19,483.02 C117.19,481.63 117.55,478.74 118.20,477.25 C118.85,475.76 119.89,474.89 121.09,474.08 C122.29,473.26 124.02,472.87 125.42,472.34 C126.81,471.81 128.25,471.38 129.46,470.90 C130.66,470.42 131.72,469.55 132.63,469.46 C133.55,469.36 134.41,469.36 134.94,470.32 C135.47,471.29 135.90,473.52 135.81,475.23 C135.71,476.94 135.18,478.98 134.36,480.57 C133.55,482.16 132.25,483.67 130.90,484.75 C129.55,485.84 127.92,486.68 126.28,487.06 C124.65,487.45 122.43,487.30 121.09,487.06 C119.74,486.82 118.85,486.29 118.20,485.62 C117.55,484.95 117.19,484.42 117.19,483.02Z" fill="#000"/>
<g fill="#111"><rect x="135.3" y="471.0" width="0.9" height="0.9"/><rect x="127.1" y="486.4" width="0.9" height="0.9"/><rect x="127.7" y="470.2" width="0.9" height="0.9"/><rect x="121.3" y="472.8" width="0.9" height="0.9"/><rect x="126.9" y="470.5" width="0.9" height="0.9"/><rect x="131.9" y="483.2" width="0.9" height="0.9"/><rect x="129.6" y="469.4" width="0.9" height="0.9"/><rect x="122.7" y="472.6" width="0.9" height="0.9"/><rect x="120.0" y="474.3" width="0.9" height="0.9"/><rect x="135.4" y="476.8" width="0.9" height="0.9"/><rect x="120.9" y="473.0" width="0.9" height="0.9"/><rect x="124.6" y="487.7" width="0.9" height="0.9"/><rect x="125.6" y="487.1" width="0.9" height="0.9"/><rect x="118.4" y="486.3" width="0.9" height="0.9"/><rect x="129.0" y="485.3" width="0.9" height="0.9"/><rect x="124.2" y="487.7" width="0.9" height="0.9"/><rect x="124.2" y="471.7" width="0.9" height="0.9"/><rect x="132.4" y="482.4" width="0.9" height="0.9"/><rect x="124.9" y="487.5" width="0.9" height="0.9"/><rect x="118.8" y="474.7" width="0.9" height="0.9"/><rect x="116.8" y="481.2" width="0.9" height="0.9"/><rect x="119.5" y="487.3" width="0.9" height="0.9"/><rect x="129.0" y="469.8" width="0.9" height="0.9"/><rect x="122.5" y="472.4" width="0.9" height="0.9"/><rect x="133.3" y="468.0" width="0.9" height="0.9"/><rect x="121.8" y="472.4" width="0.9" height="0.9"/><rect x="123.5" y="487.6" width="0.9" height="0.9"/><rect x="116.2" y="483.2" width="0.9" height="0.9"/><rect x="119.6" y="474.0" width="0.9" height="0.9"/><rect x="120.8" y="486.8" width="0.9" height="0.9"/><rect x="134.2" y="480.0" width="0.9" height="0.9"/><rect x="117.5" y="486.3" width="0.9" height="0.9"/><rect x="134.3" y="468.4" width="0.9" height="0.9"/><rect x="135.7" y="474.7" width="0.9" height="0.9"/><rect x="135.4" y="470.1" width="0.9" height="0.9"/><rect x="131.4" y="468.6" width="0.9" height="0.9"/><rect x="135.2" y="475.5" width="0.9" height="0.9"/><rect x="133.7" y="481.4" width="0.9" height="0.9"/><rect x="124.4" y="487.3" width="0.9" height="0.9"/><rect x="118.5" y="485.8" width="0.9" height="0.9"/><rect x="118.2" y="476.1" width="0.9" height="0.9"/><rect x="118.1" y="476.2" width="0.9" height="0.9"/><rect x="127.4" y="486.3" width="0.9" height="0.9"/><rect x="118.2" y="476.3" width="0.9" height="0.9"/><rect x="123.3" y="487.3" width="0.9" height="0.9"/><rect x="123.2" y="472.6" width="0.9" height="0.9"/><rect x="135.4" y="473.5" width="0.9" height="0.9"/><rect x="116.7" y="485.7" width="0.9" height="0.9"/><rect x="131.0" y="469.1" width="0.9" height="0.9"/><rect x="117.8" y="476.0" width="0.9" height="0.9"/><rect x="128.5" y="485.8" width="0.9" height="0.9"/><rect x="119.2" y="474.5" width="0.9" height="0.9"/><rect x="122.4" y="472.8" width="0.9" height="0.9"/><rect x="134.2" y="480.9" width="0.9" height="0.9"/><rect x="120.6" y="487.5" width="0.9" height="0.9"/><rect x="135.2" y="472.7" width="0.9" height="0.9"/><rect x="133.1" y="468.1" width="0.9" height="0.9"/><rect x="133.5" y="481.6" width="0.9" height="0.9"/><rect x="118.1" y="475.5" width="0.9" height="0.9"/><rect x="127.6" y="470.1" width="0.9" height="0.9"/><rect x="119.6" y="487.1" width="0.9" height="0.9"/><rect x="116.3" y="484.0" width="0.9" height="0.9"/><rect x="134.9" y="469.8" width="0.9" height="0.9"/><rect x="118.6" y="474.5" width="0.9" height="0.9"/><rect x="130.6" y="484.3" width="0.9" height="0.9"/><rect x="123.3" y="487.7" width="0.9" height="0.9"/><rect x="117.1" y="486.0" width="0.9" height="0.9"/><rect x="130.8" y="484.3" width="0.9" height="0.9"/><rect x="124.4" y="487.6" width="0.9" height="0.9"/><rect x="116.6" y="478.4" width="0.9" height="0.9"/><rect x="128.1" y="470.0" width="0.9" height="0.9"/><rect x="132.9" y="469.0" width="0.9" height="0.9"/><rect x="135.7" y="472.9" width="0.9" height="0.9"/><rect x="132.8" y="468.1" width="0.9" height="0.9"/><rect x="124.3" y="486.7" width="0.9" height="0.9"/><rect x="117.4" y="486.2" width="0.9" height="0.9"/><rect x="135.1" y="478.5" width="0.9" height="0.9"/><rect x="133.7" y="468.3" width="0.9" height="0.9"/><rect x="118.5" y="486.3" width="0.9" height="0.9"/><rect x="124.8" y="471.5" width="0.9" height="0.9"/><rect x="115.5" y="482.9" width="0.9" height="0.9"/><rect x="124.7" y="487.6" width="0.9" height="0.9"/><rect x="125.5" y="471.0" width="0.9" height="0.9"/><rect x="134.9" y="469.9" width="0.9" height="0.9"/><rect x="124.4" y="471.5" width="0.9" height="0.9"/><rect x="123.7" y="486.6" width="0.9" height="0.9"/><rect x="122.8" y="487.5" width="0.9" height="0.9"/><rect x="124.2" y="487.0" width="0.9" height="0.9"/><rect x="116.2" y="484.4" width="0.9" height="0.9"/><rect x="135.0" y="478.4" width="0.9" height="0.9"/><rect x="130.8" y="484.0" width="0.9" height="0.9"/><rect x="132.2" y="483.7" width="0.9" height="0.9"/><rect x="117.4" y="484.7" width="0.9" height="0.9"/><rect x="122.7" y="487.6" width="0.9" height="0.9"/><rect x="130.7" y="484.3" width="0.9" height="0.9"/><rect x="133.8" y="480.5" width="0.9" height="0.9"/><rect x="135.2" y="471.2" width="0.9" height="0.9"/><rect x="134.7" y="479.4" width="0.9" height="0.9"/><rect x="123.5" y="471.9" width="0.9" height="0.9"/><rect x="133.2" y="482.6" width="0.9" height="0.9"/><rect x="134.6" y="469.3" width="0.9" height="0.9"/><rect x="135.3" y="473.0" width="0.9" height="0.9"/><rect x="129.4" y="469.5" width="0.9" height="0.9"/><rect x="122.6" y="486.8" width="0.9" height="0.9"/><rect x="125.9" y="486.6" width="0.9" height="0.9"/><rect x="136.0" y="473.4" width="0.9" height="0.9"/><rect x="123.6" y="487.2" width="0.9" height="0.9"/><rect x="120.2" y="473.2" width="0.9" height="0.9"/><rect x="125.8" y="487.5" width="0.9" height="0.9"/><rect x="117.9" y="485.6" width="0.9" height="0.9"/></g>
<g fill="#666"><rect x="216.6" y="455.9" width="0.8" height="0.8"/><rect x="222.3" y="466.8" width="0.8" height="0.8"/><rect x="217.4" y="447.5" width="0.8" height="0.8"/><rect x="219.3" y="456.5" width="0.8" height="0.8"/><rect x="220.4" y="466.3" width="0.8" height="0.8"/><rect x="219.5" y="458.5" width="0.8" height="0.8"/><rect x="219.9" y="456.1" width="0.8" height="0.8"/><rect x="218.1" y="455.8" width="0.8" height="0.8"/><rect x="220.4" y="467.6" width="0.8" height="0.8"/><rect x="220.2" y="462.4" width="0.8" height="0.8"/><rect x="216.1" y="466.0" width="0.8" height="0.8"/><rect x="218.9" y="468.4" width="0.8" height="0.8"/><rect x="218.5" y="466.3" width="0.8" height="0.8"/><rect x="218.7" y="447.9" width="0.8" height="0.8"/><rect x="219.2" y="456.9" width="0.8" height="0.8"/><rect x="220.3" y="458.7" width="0.8" height="0.8"/><rect x="216.7" y="447.3" width="0.8" height="0.8"/><rect x="219.7" y="462.3" width="0.8" height="0.8"/><rect x="217.3" y="465.3" width="0.8" height="0.8"/><rect x="218.7" y="468.0" width="0.8" height="0.8"/><rect x="224.7" y="445.4" width="0.8" height="0.8"/><rect x="216.1" y="453.7" width="0.8" height="0.8"/><rect x="217.5" y="462.9" width="0.8" height="0.8"/><rect x="219.6" y="467.1" width="0.8" height="0.8"/><rect x="220.8" y="468.8" width="0.8" height="0.8"/><rect x="221.1" y="466.7" width="0.8" height="0.8"/><rect x="218.1" y="455.5" width="0.8" height="0.8"/><rect x="219.4" y="457.1" width="0.8" height="0.8"/><rect x="219.4" y="450.9" width="0.8" height="0.8"/><rect x="217.7" y="469.2" width="0.8" height="0.8"/><rect x="222.1" y="446.1" width="0.8" height="0.8"/><rect x="219.3" y="463.1" width="0.8" height="0.8"/><rect x="214.7" y="449.4" width="0.8" height="0.8"/><rect x="221.4" y="466.4" width="0.8" height="0.8"/><rect x="219.2" y="445.8" width="0.8" height="0.8"/></g>
<path d="M209.63,476.96 C209.87,475.64 210.35,474.36 211.08,473.35 C211.80,472.34 212.88,471.45 213.96,470.90 C215.04,470.35 216.56,469.87 217.57,470.03 C218.58,470.20 219.54,470.88 220.02,471.91 C220.50,472.94 220.62,474.68 220.45,476.24 C220.29,477.80 219.73,479.85 219.01,481.29 C218.29,482.73 217.09,484.13 216.13,484.90 C215.16,485.67 214.13,486.03 213.24,485.91 C212.35,485.79 211.39,484.95 210.79,484.18 C210.19,483.41 209.82,482.49 209.63,481.29 C209.44,480.09 209.39,478.28 209.63,476.96Z" fill="#000"/>
<g fill="#111"><rect x="208.9" y="475.3" width="0.9" height="0.9"/><rect x="221.1" y="474.7" width="0.9" height="0.9"/><rect x="217.6" y="468.3" width="0.9" height="0.9"/><rect x="219.2" y="481.3" width="0.9" height="0.9"/><rect x="209.6" y="483.3" width="0.9" height="0.9"/><rect x="216.4" y="484.6" width="0.9" height="0.9"/><rect x="221.1" y="472.8" width="0.9" height="0.9"/><rect x="211.5" y="484.8" width="0.9" height="0.9"/><rect x="209.4" y="483.3" width="0.9" height="0.9"/><rect x="220.1" y="478.8" width="0.9" height="0.9"/><rect x="216.8" y="469.2" width="0.9" height="0.9"/><rect x="212.7" y="486.7" width="0.9" height="0.9"/><rect x="215.6" y="484.6" width="0.9" height="0.9"/><rect x="208.2" y="477.7" width="0.9" height="0.9"/><rect x="220.6" y="472.5" width="0.9" height="0.9"/><rect x="208.9" y="480.1" width="0.9" height="0.9"/><rect x="218.6" y="481.1" width="0.9" height="0.9"/><rect x="215.8" y="469.7" width="0.9" height="0.9"/><rect x="208.3" y="480.3" width="0.9" height="0.9"/><rect x="215.7" y="486.0" width="0.9" height="0.9"/><rect x="215.4" y="485.8" width="0.9" height="0.9"/><rect x="220.6" y="477.3" width="0.9" height="0.9"/><rect x="208.4" y="476.6" width="0.9" height="0.9"/><rect x="219.2" y="479.6" width="0.9" height="0.9"/><rect x="220.2" y="478.4" width="0.9" height="0.9"/><rect x="216.6" y="483.6" width="0.9" height="0.9"/><rect x="209.1" y="476.8" width="0.9" height="0.9"/><rect x="209.9" y="484.8" width="0.9" height="0.9"/><rect x="217.5" y="467.8" width="0.9" height="0.9"/><rect x="208.8" y="478.7" width="0.9" height="0.9"/><rect x="219.8" y="469.7" width="0.9" height="0.9"/><rect x="212.4" y="470.6" width="0.9" height="0.9"/><rect x="214.2" y="468.5" width="0.9" height="0.9"/><rect x="215.3" y="486.2" width="0.9" height="0.9"/><rect x="214.6" y="469.2" width="0.9" height="0.9"/><rect x="220.1" y="477.4" width="0.9" height="0.9"/><rect x="216.8" y="468.9" width="0.9" height="0.9"/><rect x="214.5" y="484.9" width="0.9" height="0.9"/><rect x="218.4" y="468.6" width="0.9" height="0.9"/><rect x="210.1" y="484.6" width="0.9" height="0.9"/></g>
<g fill="#444"><rect x="208.3" y="480.3" width="0.8" height="0.8"/><rect x="211.5" y="478.8" width="0.8" height="0.8"/><rect x="205.2" y="481.5" width="0.8" height="0.8"/><rect x="205.9" y="483.8" width="0.8" height="0.8"/><rect x="205.2" y="481.9" width="0.8" height="0.8"/><rect x="203.4" y="481.5" width="0.8" height="0.8"/><rect x="209.9" y="480.7" width="0.8" height="0.8"/><rect x="208.3" y="485.4" width="0.8" height="0.8"/><rect x="205.2" y="477.2" width="0.8" height="0.8"/><rect x="207.8" y="482.6" width="0.8" height="0.8"/><rect x="207.0" y="478.3" width="0.8" height="0.8"/><rect x="210.2" y="477.6" width="0.8" height="0.8"/><rect x="207.0" y="481.5" width="0.8" height="0.8"/><rect x="209.2" y="480.1" width="0.8" height="0.8"/><rect x="205.8" y="488.6" width="0.8" height="0.8"/><rect x="205.8" y="484.4" width="0.8" height="0.8"/><rect x="207.3" y="480.0" width="0.8" height="0.8"/><rect x="207.5" y="480.7" width="0.8" height="0.8"/></g>
<text x="270.00" y="241.60" font-size="14" text-anchor="start" font-weight="bold" >E</text>
<line x1="343.50" y1="513.80" x2="343.50" y2="273.70" stroke="#000" stroke-width="1.1"/>
<polygon points="343.00,267.70 340.60,274.70 345.40,274.70" fill="#000"/>
<line x1="343.00" y1="513.50" x2="421.00" y2="513.50" stroke="#000" stroke-width="1.1"/>
<polygon points="427.40,513.80 419.60,511.60 419.60,516.00" fill="#000"/>
<line x1="434.60" y1="513.50" x2="505.00" y2="513.50" stroke="#000" stroke-width="1.1"/>
<polygon points="512.20,513.80 504.00,511.60 504.00,516.00" fill="#000"/>
<text transform="translate(340.3,292.4) rotate(-90)" font-size="10" text-anchor="middle">Events</text>
<text x="404.00" y="528.10" font-size="10" text-anchor="middle" >CD25</text>
<text x="486.60" y="528.60" font-size="10" text-anchor="middle" >HLA-DR</text>
<text x="303.90" y="299.40" font-size="10.2" text-anchor="middle" >Untreated</text>
<text x="303.90" y="311.70" font-size="10.2" text-anchor="middle" >control</text>
<text x="304.00" y="374.90" font-size="10.2" text-anchor="middle" >FK778</text>
<text x="304.00" y="387.20" font-size="10.2" text-anchor="middle" >50 µg/mL</text>
<text x="310.20" y="459.90" font-size="10.2" text-anchor="middle" >Unstimulated</text>
<text x="310.20" y="472.20" font-size="10.2" text-anchor="middle" >responders</text>
<rect x="352.50" y="264.50" width="75.00" height="60.00" fill="none" stroke="#8c8c8c" stroke-width="1"/>
<polygon points="353.65,324.55 353.87,323.60 354.08,322.65 354.30,322.11 354.52,320.74 354.67,320.19 354.83,319.05 354.99,318.18 355.14,317.99 355.30,316.41 355.46,316.34 355.62,315.56 355.77,314.06 355.93,314.07 356.09,313.01 356.25,312.09 356.33,311.17 356.41,310.38 356.49,309.72 356.58,308.82 356.66,308.31 356.74,307.51 356.82,306.17 356.90,305.06 356.99,304.93 357.07,303.99 357.15,303.17 357.23,301.82 357.32,301.00 357.40,300.92 357.48,299.61 357.56,298.89 357.65,298.51 357.73,296.99 357.81,296.56 357.89,295.22 357.98,294.79 358.06,294.02 358.14,293.36 358.22,292.01 358.31,291.73 358.39,291.09 358.47,290.14 358.55,289.29 358.63,288.60 358.72,287.57 358.80,286.60 358.88,286.02 358.96,285.18 359.05,284.20 359.13,283.41 359.21,282.15 359.29,281.47 359.38,280.63 359.46,280.29 359.54,279.39 359.62,278.13 359.71,277.49 359.86,277.07 360.01,275.36 360.16,274.50 360.31,273.88 360.46,272.79 360.61,272.71 360.77,271.31 360.92,270.57 361.12,269.61 361.33,269.16 361.54,268.01 361.75,267.23 361.96,266.25 362.13,267.06 362.30,267.94 362.47,269.25 362.65,269.51 362.82,270.57 362.94,271.46 363.06,272.28 363.18,272.84 363.30,273.71 363.43,274.90 363.55,276.03 363.67,276.57 363.79,277.09 363.91,278.75 364.03,279.22 364.12,279.70 364.22,281.18 364.31,281.23 364.40,282.59 364.49,282.94 364.58,283.85 364.68,284.80 364.77,285.91 364.86,286.43 364.95,287.22 365.05,288.01 365.14,288.93 365.23,289.52 365.32,290.93 365.42,291.33 365.49,291.87 365.56,292.63 365.63,293.82 365.70,294.46 365.77,295.60 365.84,295.80 365.91,297.19 365.99,297.72 366.06,299.04 366.13,299.29 366.20,300.23 366.27,300.94 366.34,301.95 366.41,302.53 366.48,303.70 366.56,304.28 366.63,305.17 366.78,306.23 366.93,306.72 367.08,307.73 367.23,308.68 367.38,309.69 367.53,310.50 367.69,311.16 367.84,312.09 368.11,312.59 368.39,313.47 368.67,314.37 368.94,315.27 369.22,316.42 369.80,316.88 370.37,318.06 370.95,318.67 371.82,318.87 372.68,319.36 373.55,319.50 374.41,318.66 375.28,318.67 375.80,317.82 376.31,317.14 376.83,316.48 377.35,316.34 377.87,315.55 378.16,314.86 378.45,313.79 378.74,313.53 379.03,312.64 379.31,311.64 379.60,311.04 379.89,310.31 380.18,309.35 380.47,308.63 380.76,307.50 381.04,306.97 381.33,306.73 381.62,305.44 381.91,304.91 382.20,303.65 382.49,303.50 382.77,302.81 383.06,301.71 383.35,300.83 383.64,300.06 383.93,299.42 384.22,298.41 384.50,297.61 384.79,296.76 385.08,296.50 385.37,295.57 385.66,294.79 386.18,294.51 386.70,293.82 387.21,293.05 387.73,292.42 388.25,291.33 388.83,290.77 389.41,289.17 389.98,288.74 390.21,287.54 390.44,287.44 390.67,286.48 390.91,285.38 391.14,284.52 391.37,283.55 391.66,284.35 391.94,285.21 392.23,285.82 392.52,287.05 392.81,287.67 393.10,288.74 394.13,288.83 395.17,289.60 395.46,290.80 395.75,291.40 396.04,292.54 396.33,292.88 396.61,294.00 396.90,294.79 397.19,295.46 397.48,296.82 397.77,297.13 398.06,298.39 398.34,299.17 398.63,299.98 398.98,300.69 399.33,301.33 399.67,302.57 400.02,303.46 400.36,304.31 400.71,305.46 401.06,305.77 401.40,306.62 401.75,307.59 402.09,308.63 402.42,309.66 402.74,309.91 403.07,311.02 403.39,311.24 403.72,312.04 404.04,313.36 404.36,313.93 404.69,314.69 405.12,315.06 405.55,316.11 405.99,317.25 406.42,317.47 406.85,318.34 407.28,319.01 407.98,319.46 408.67,320.06 409.36,320.16 410.05,321.43 410.74,321.61 411.61,322.11 412.47,322.34 413.34,322.71 414.20,323.34 415.07,323.64 415.93,323.94 416.80,324.25 417.66,324.55" fill="#000"/>
<line x1="376.10" y1="278.50" x2="427.10" y2="278.50" stroke="#6e6e6e" stroke-width="1"/>
<text x="411.20" y="275.00" font-size="10" text-anchor="middle" >62</text>
<rect x="437.50" y="264.50" width="74.00" height="60.00" fill="none" stroke="#8c8c8c" stroke-width="1"/>
<polygon points="438.49,324.55 438.49,323.73 438.49,322.62 438.49,322.47 438.49,321.56 438.49,320.32 438.49,319.69 438.49,318.82 438.49,317.68 438.49,316.70 438.49,316.51 438.49,315.17 438.49,314.71 438.49,313.82 438.62,312.52 438.74,311.66 438.86,310.93 438.98,310.50 439.10,309.60 439.22,309.08 439.34,307.91 439.46,306.92 439.58,305.60 439.71,305.17 439.82,304.78 439.94,303.55 440.05,303.07 440.17,301.53 440.28,301.44 440.40,300.31 440.51,299.27 440.63,298.63 440.74,297.52 440.86,297.17 440.97,296.04 441.09,295.67 441.21,294.38 441.32,294.04 441.44,293.06 441.55,292.36 441.67,291.64 441.78,291.05 441.90,289.65 442.01,289.19 442.13,288.13 442.24,287.77 442.36,286.90 442.47,286.03 442.59,285.08 442.70,283.97 442.82,283.74 442.94,282.99 443.05,282.16 443.17,280.95 443.28,280.00 443.40,279.63 443.51,278.69 443.63,278.03 443.74,277.19 443.86,276.07 443.97,275.21 444.09,274.76 444.20,273.82 444.32,272.91 444.43,272.41 444.55,270.84 444.67,270.02 444.78,269.62 444.90,268.84 445.14,267.61 445.38,267.42 445.62,265.88 445.87,265.72 446.11,264.52 446.30,265.13 446.50,265.92 446.70,267.34 446.90,268.14 447.10,268.76 447.29,269.79 447.49,270.57 447.61,271.43 447.72,272.59 447.84,273.00 447.95,273.84 448.07,274.57 448.18,275.34 448.30,276.39 448.41,276.68 448.53,278.01 448.64,279.03 448.76,279.69 448.88,280.30 448.99,280.93 449.11,281.51 449.22,282.68 449.38,283.10 449.54,284.29 449.69,285.38 449.85,286.16 450.01,286.33 450.17,287.62 450.32,288.46 450.48,288.95 450.64,290.08 450.79,290.26 450.95,291.33 451.24,292.05 451.53,293.08 451.82,294.13 452.10,294.75 452.39,295.48 452.68,296.52 453.11,297.57 453.55,297.87 453.98,298.61 454.41,299.16 454.84,300.11 455.28,300.85 456.14,300.86 457.01,300.38 457.87,300.33 458.74,300.07 459.60,299.52 460.47,299.12 461.04,297.81 461.62,297.80 462.20,296.52 462.80,297.20 463.41,298.25 463.97,298.94 464.53,299.96 465.10,299.93 465.66,300.85 465.98,301.20 466.30,302.07 466.62,302.76 466.94,304.13 467.26,304.57 467.59,304.88 467.91,306.04 468.25,306.70 468.60,307.78 468.94,308.34 469.29,309.32 469.64,310.73 469.98,311.23 470.33,312.04 470.67,312.72 471.02,313.91 471.37,314.34 471.71,315.57 472.06,316.42 472.38,317.29 472.70,317.53 473.02,318.69 473.34,319.21 473.67,320.35 473.99,320.97 474.31,321.61 474.87,322.71 475.43,323.08 475.99,323.81 476.56,324.55" fill="#000"/>
<line x1="455.30" y1="289.50" x2="511.90" y2="289.50" stroke="#6e6e6e" stroke-width="1"/>
<text x="496.40" y="282.00" font-size="10" text-anchor="middle" >39</text>
<rect x="352.50" y="348.50" width="74.00" height="61.00" fill="none" stroke="#8c8c8c" stroke-width="1"/>
<polygon points="353.30,409.55 353.48,408.76 353.65,408.06 353.82,406.89 354.00,406.10 354.17,405.78 354.34,405.08 354.52,404.01 354.62,402.81 354.72,402.31 354.82,401.38 354.92,400.73 355.02,400.28 355.13,399.18 355.23,398.53 355.33,397.74 355.43,396.49 355.53,395.98 355.64,394.95 355.74,394.22 355.84,393.46 355.94,392.77 356.04,391.50 356.14,391.29 356.25,390.17 356.33,389.04 356.41,388.36 356.49,388.02 356.58,387.31 356.66,385.93 356.74,385.64 356.82,383.99 356.90,383.99 356.99,382.49 357.07,381.52 357.15,381.35 357.23,379.98 357.32,379.69 357.40,378.20 357.48,377.48 357.56,376.86 357.65,375.79 357.73,375.32 357.81,374.38 357.89,373.91 357.98,372.87 358.07,372.05 358.16,371.65 358.25,370.72 358.34,369.30 358.43,369.15 358.52,368.31 358.61,367.19 358.70,366.34 358.80,365.20 358.89,364.52 358.98,363.61 359.07,362.76 359.16,362.32 359.25,361.24 359.34,360.82 359.43,359.83 359.52,359.23 359.61,357.75 359.71,357.30 359.90,356.75 360.09,355.58 360.28,354.82 360.47,353.61 360.67,353.15 360.86,352.03 361.05,351.45 361.24,350.46 361.44,349.52 361.68,350.06 361.92,351.07 362.16,352.34 362.40,352.54 362.65,353.84 362.74,354.77 362.83,355.50 362.92,356.46 363.02,356.92 363.11,357.86 363.20,358.66 363.29,359.72 363.39,359.92 363.48,361.12 363.57,361.70 363.66,362.80 363.75,363.31 363.85,364.07 363.94,364.90 364.03,365.95 364.11,367.13 364.20,367.48 364.28,368.77 364.36,369.46 364.44,369.86 364.53,370.94 364.61,371.28 364.69,372.93 364.77,373.48 364.86,373.84 364.94,375.03 365.02,375.83 365.10,376.82 365.18,377.30 365.27,378.68 365.35,379.24 365.43,379.57 365.51,381.07 365.60,381.95 365.68,382.25 365.76,383.25 365.86,384.26 365.96,385.21 366.07,386.04 366.17,386.12 366.27,387.63 366.37,387.91 366.47,389.22 366.58,389.93 366.68,390.55 366.78,391.76 366.88,392.48 366.98,393.47 367.08,394.25 367.19,394.72 367.29,395.68 367.39,396.43 367.49,397.09 367.71,397.87 367.92,398.82 368.14,399.70 368.36,400.30 368.57,401.20 368.79,402.59 369.01,403.46 369.22,404.01 369.80,405.06 370.37,405.91 370.95,406.61 371.82,406.83 372.68,407.11 373.55,407.41 374.41,407.47 375.28,407.09 376.14,407.54 377.01,408.07 377.87,407.44 378.74,407.73 379.60,407.82 380.47,407.38 381.33,407.48 382.20,407.94 383.06,407.17 383.93,407.80 384.79,407.47 385.66,407.57 386.52,407.46 387.39,406.74 388.25,407.17 389.12,406.61 389.84,406.06 390.56,405.70 391.28,405.72 392.00,404.92 392.72,404.61 393.44,404.01 394.13,403.14 394.83,402.53 395.52,402.24 396.21,401.58 396.90,401.42 397.77,401.28 398.63,400.33 399.50,400.53 400.36,399.69 401.23,399.68 402.09,399.07 402.96,399.17 403.82,399.71 404.69,399.70 405.55,400.21 406.42,400.53 407.28,400.43 408.15,401.42 409.01,401.42 409.88,401.98 410.74,402.10 411.61,402.50 412.47,402.63 413.34,402.83 414.20,402.99 415.07,403.51 415.93,404.01 416.80,404.58 417.66,404.76 418.53,404.72 419.39,405.40 420.26,405.60 421.12,406.24 421.99,406.26 422.85,407.13 423.63,407.15 424.41,407.95 425.19,408.43 425.97,408.86 426.31,409.55" fill="#000"/>
<line x1="376.10" y1="363.50" x2="426.70" y2="363.50" stroke="#6e6e6e" stroke-width="1"/>
<text x="411.40" y="360.00" font-size="10" text-anchor="middle" >37</text>
<rect x="437.50" y="348.50" width="74.00" height="61.00" fill="none" stroke="#8c8c8c" stroke-width="1"/>
<polygon points="438.49,409.55 438.53,408.74 438.57,407.61 438.61,407.48 438.65,405.99 438.69,405.74 438.73,404.97 438.76,403.73 438.80,403.13 438.84,402.28 438.92,401.90 439.01,400.74 439.09,399.71 439.17,399.42 439.25,397.95 439.34,397.75 439.42,396.35 439.50,395.62 439.58,394.70 439.66,394.18 439.75,393.57 439.83,392.57 439.91,391.29 439.99,391.19 440.08,390.13 440.16,389.11 440.24,388.59 440.32,387.10 440.41,386.72 440.49,386.06 440.57,384.98 440.66,384.41 440.75,383.50 440.84,382.13 440.94,381.69 441.03,380.68 441.12,380.16 441.21,379.15 441.30,378.39 441.39,377.64 441.48,376.87 441.57,376.32 441.66,374.95 441.75,374.13 441.85,373.23 441.94,372.34 442.03,372.18 442.12,371.43 442.21,369.89 442.30,369.41 442.40,368.47 442.50,368.15 442.61,367.30 442.71,366.59 442.81,365.78 442.91,364.35 443.01,363.32 443.12,362.67 443.22,362.09 443.32,360.83 443.42,360.23 443.52,359.62 443.62,358.99 443.73,357.70 443.83,356.86 443.93,356.23 444.03,355.57 444.23,354.34 444.43,353.50 444.62,352.62 444.82,352.38 445.02,351.59 445.22,349.97 445.42,349.52 445.66,350.65 445.90,351.55 446.14,352.25 446.38,352.80 446.63,353.84 446.70,354.95 446.77,355.10 446.84,355.89 446.92,357.53 446.99,357.69 447.06,359.13 447.14,359.81 447.21,359.99 447.28,360.85 447.35,362.17 447.43,362.54 447.50,363.82 447.57,364.65 447.65,365.07 447.72,366.11 447.79,366.69 447.86,368.11 447.94,368.71 448.01,369.41 448.07,370.40 448.14,371.16 448.20,371.48 448.27,373.04 448.33,373.76 448.39,374.34 448.46,375.23 448.52,375.96 448.58,377.02 448.65,377.64 448.71,378.23 448.78,379.26 448.84,379.81 448.90,380.44 448.97,381.72 449.03,382.86 449.09,383.54 449.16,383.90 449.22,384.98 449.33,385.79 449.43,386.65 449.54,387.45 449.65,388.14 449.75,388.98 449.86,389.94 449.97,390.92 450.07,391.38 450.18,392.42 450.29,393.13 450.39,393.42 450.50,394.35 450.61,395.36 450.78,396.06 450.95,396.96 451.12,397.95 451.30,398.64 451.47,400.14 451.64,400.76 451.82,401.42 452.16,402.17 452.51,403.33 452.85,404.40 453.20,404.57 453.55,405.74 454.20,406.38 454.84,407.19 455.49,407.19 456.14,407.82 457.01,408.08 457.87,408.34 458.74,408.60 459.60,408.86 460.47,408.89 461.33,408.93 462.20,408.96 463.06,409.00 463.93,409.03 464.79,409.07 465.66,409.10 466.52,409.13 467.39,409.17 468.25,409.20 469.12,409.26 469.98,409.32 470.85,409.38 471.71,409.43 472.58,409.49 473.44,409.55" fill="#000"/>
<line x1="455.30" y1="374.50" x2="511.90" y2="374.50" stroke="#6e6e6e" stroke-width="1"/>
<text x="501.60" y="367.00" font-size="10" text-anchor="middle" >3</text>
<rect x="352.50" y="433.50" width="74.00" height="61.00" fill="none" stroke="#8c8c8c" stroke-width="1"/>
<polygon points="353.30,494.55 353.39,493.60 353.48,492.99 353.56,491.97 353.65,490.74 353.79,489.72 353.93,488.69 354.07,488.42 354.20,487.21 354.34,486.28 354.48,485.52 354.62,484.89 354.76,484.18 354.90,483.33 355.03,482.09 355.14,481.52 355.24,480.17 355.34,479.53 355.44,478.39 355.54,477.75 355.65,477.06 355.75,476.10 355.85,475.56 355.95,474.43 356.05,474.09 356.15,473.06 356.26,472.10 356.36,471.68 356.46,470.54 356.56,469.45 356.66,469.37 356.76,468.25 356.85,467.66 356.93,466.95 357.01,465.60 357.09,464.74 357.18,464.31 357.26,462.99 357.34,462.91 357.42,461.80 357.51,460.88 357.59,459.61 357.67,459.00 357.75,458.30 357.84,457.98 357.92,456.40 358.00,455.98 358.08,454.69 358.17,454.67 358.25,453.65 358.33,452.88 358.41,452.00 358.49,450.95 358.60,449.85 358.71,449.10 358.82,448.10 358.93,447.75 359.04,446.52 359.14,445.81 359.25,444.98 359.36,444.84 359.47,443.91 359.58,442.65 359.68,442.45 359.79,440.91 359.90,440.09 360.01,439.49 360.12,439.06 360.22,437.98 360.53,436.75 360.83,436.51 361.13,435.42 361.44,434.52 361.84,435.65 362.24,436.10 362.65,437.11 362.79,437.56 362.92,438.48 363.06,439.91 363.20,440.58 363.34,441.67 363.48,442.03 363.62,442.97 363.75,443.77 363.89,445.21 364.03,445.76 364.16,446.74 364.30,447.05 364.43,448.36 364.56,448.54 364.70,449.72 364.83,450.33 364.96,451.59 365.10,452.35 365.23,453.11 365.36,453.47 365.50,454.13 365.63,455.47 365.76,456.14 365.89,457.12 366.03,457.30 366.16,458.84 366.29,459.69 366.43,460.01 366.56,460.95 366.69,461.87 366.83,462.91 366.96,463.46 367.09,464.14 367.23,465.17 367.36,465.71 367.49,466.52 367.71,466.97 367.92,468.30 368.14,469.04 368.36,469.83 368.57,470.75 368.79,471.46 369.01,472.41 369.22,473.44 369.51,474.53 369.80,475.52 370.09,476.00 370.37,477.21 370.66,477.43 370.95,478.63 371.30,479.51 371.64,480.58 371.99,481.48 372.34,481.99 372.68,482.96 373.11,483.52 373.55,485.10 373.98,485.65 374.41,486.42 374.93,487.25 375.45,487.66 375.97,488.15 376.49,489.25 377.01,489.88 377.66,490.44 378.30,491.53 378.95,491.97 379.60,492.47 380.47,493.05 381.33,493.63 382.20,494.20 383.06,494.55" fill="#000"/>
<line x1="376.10" y1="448.50" x2="426.70" y2="448.50" stroke="#6e6e6e" stroke-width="1"/>
<text x="416.60" y="444.50" font-size="10" text-anchor="middle" >2</text>
<rect x="437.50" y="433.50" width="74.00" height="61.00" fill="none" stroke="#8c8c8c" stroke-width="1"/>
<polygon points="442.30,494.55 442.95,494.03 443.60,493.51 444.25,493.22 444.90,492.47 445.42,491.84 445.93,491.32 446.45,490.07 446.97,490.15 447.49,489.01 447.71,488.22 447.92,487.37 448.14,486.14 448.36,485.19 448.57,484.87 448.79,484.03 449.01,483.11 449.22,482.09 449.30,481.06 449.38,480.45 449.47,479.89 449.55,478.96 449.63,478.39 449.71,476.84 449.79,476.64 449.87,475.14 449.95,474.88 450.04,473.98 450.12,472.75 450.20,472.25 450.28,471.66 450.36,471.03 450.44,469.50 450.52,469.08 450.61,468.25 450.66,467.69 450.72,466.26 450.78,466.13 450.84,465.35 450.89,463.99 450.95,463.05 451.01,462.17 451.07,461.41 451.12,460.76 451.18,460.20 451.24,459.58 451.30,458.42 451.36,457.95 451.41,456.65 451.47,456.04 451.53,454.62 451.59,454.17 451.64,452.99 451.70,452.27 451.76,452.05 451.82,450.95 451.87,449.80 451.93,449.16 451.99,448.55 452.05,447.74 452.10,446.49 452.16,445.76 452.22,445.46 452.28,444.41 452.34,443.32 452.39,442.86 452.45,441.96 452.51,441.71 452.57,440.05 452.62,439.36 452.68,438.84 452.83,437.59 452.97,437.16 453.11,436.66 453.26,435.63 453.40,434.17 453.55,433.65 453.69,434.55 453.84,435.25 453.98,436.68 454.12,437.30 454.27,438.07 454.41,438.84 454.47,439.43 454.53,440.40 454.58,441.29 454.64,441.96 454.70,442.94 454.76,443.32 454.82,444.42 454.87,445.74 454.93,446.02 454.99,446.92 455.05,447.95 455.10,448.81 455.16,449.55 455.22,450.04 455.28,450.95 455.33,451.97 455.39,452.33 455.45,453.53 455.51,453.81 455.57,454.79 455.62,455.60 455.68,456.59 455.74,457.76 455.80,457.94 455.85,459.53 455.91,459.65 455.97,461.24 456.03,462.07 456.08,462.59 456.14,463.62 456.20,464.53 456.26,464.91 456.31,466.10 456.37,466.19 456.43,467.68 456.49,468.25 456.57,469.20 456.65,470.13 456.73,470.38 456.81,471.13 456.89,472.34 456.98,473.23 457.06,474.12 457.14,474.48 457.22,475.64 457.30,476.82 457.38,476.99 457.46,478.31 457.55,479.25 457.63,479.81 457.71,480.41 457.79,481.21 457.87,482.09 458.09,482.93 458.30,483.49 458.52,484.31 458.74,485.36 458.95,486.12 459.17,487.64 459.39,488.02 459.60,489.01 460.12,490.04 460.64,490.45 461.16,491.45 461.68,492.14 462.20,492.47 463.06,493.08 463.93,493.30 464.79,493.72 465.66,494.13 466.52,494.55" fill="#000"/>
<line x1="465.70" y1="457.50" x2="511.90" y2="457.50" stroke="#6e6e6e" stroke-width="1"/>
<text x="501.60" y="452.50" font-size="10" text-anchor="middle" >1</text>
<text x="390.40" y="336.60" font-size="10.35" text-anchor="middle" >MFI = 250</text>
<text x="385.60" y="421.60" font-size="10.35" text-anchor="middle" >MFI = 1150</text>
<text x="380.00" y="506.20" font-size="10.35" text-anchor="middle" >MFI = 10</text>
</svg></body></html>
